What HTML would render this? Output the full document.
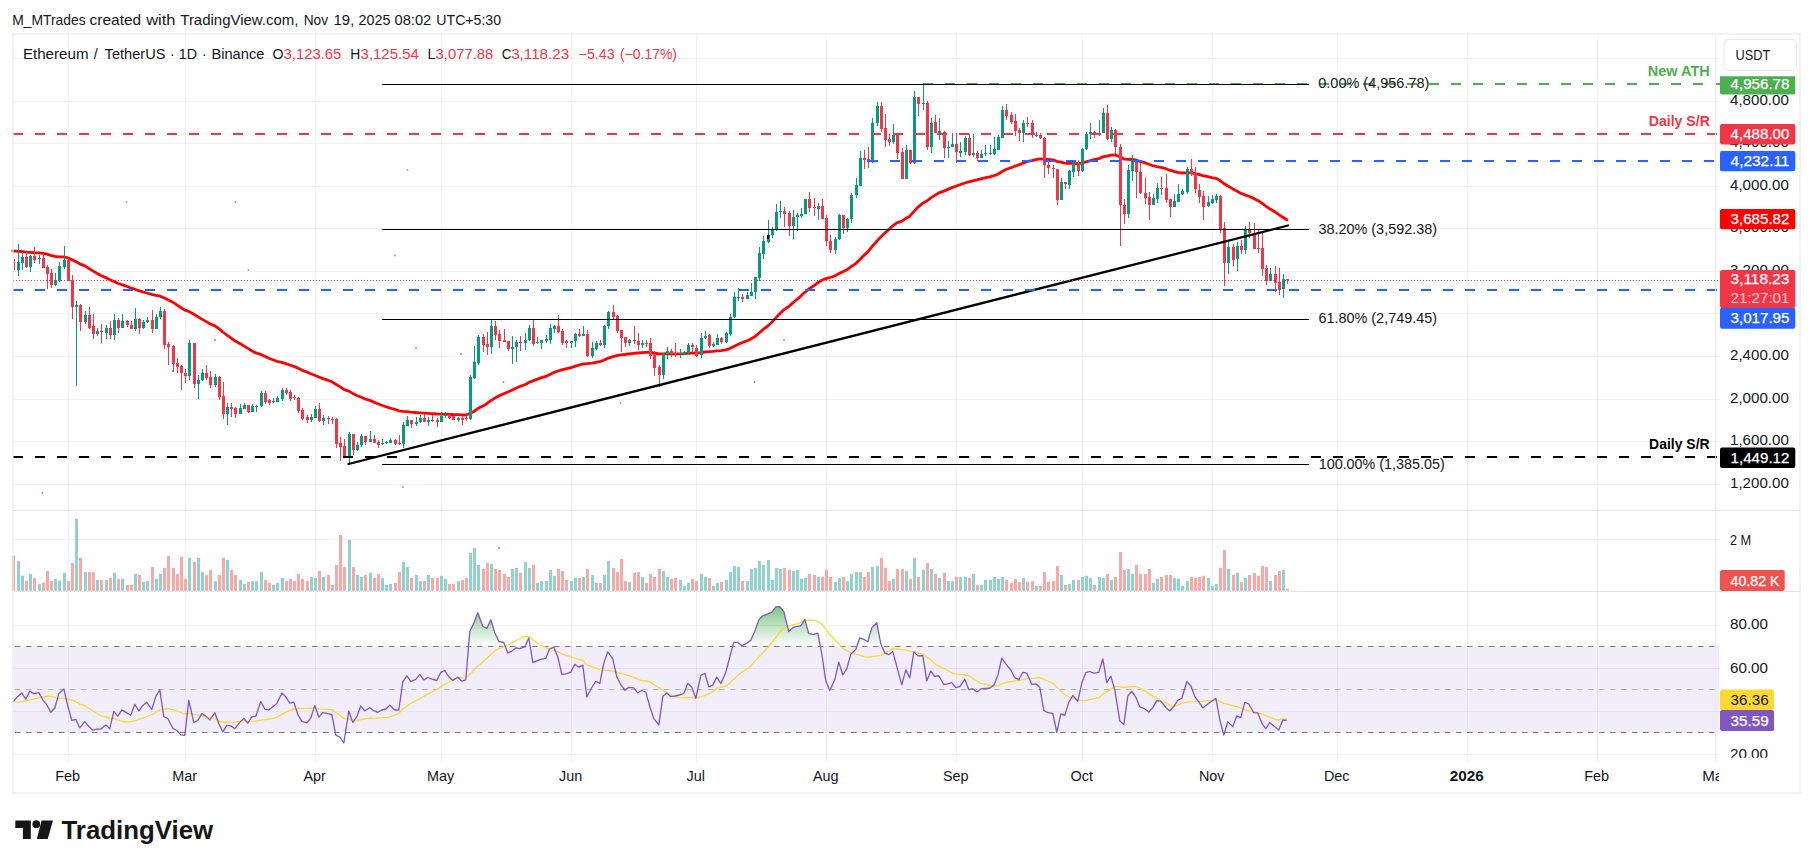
<!DOCTYPE html>
<html lang="en"><head><meta charset="utf-8"><title>ETHUSDT chart</title>
<style>html,body{margin:0;padding:0;background:#fff;}body{width:1814px;height:868px;overflow:hidden;font-family:"Liberation Sans",Arial,sans-serif;}svg{display:block}text{white-space:pre}</style>
</head><body>
<svg width="1814" height="868" viewBox="0 0 1814 868"><g shape-rendering="crispEdges">
<rect x="68" y="35" width="1" height="726.5" fill="#2a2e39" fill-opacity="0.065"/>
<rect x="185" y="35" width="1" height="726.5" fill="#2a2e39" fill-opacity="0.065"/>
<rect x="315" y="35" width="1" height="726.5" fill="#2a2e39" fill-opacity="0.065"/>
<rect x="441" y="35" width="1" height="726.5" fill="#2a2e39" fill-opacity="0.065"/>
<rect x="571" y="35" width="1" height="726.5" fill="#2a2e39" fill-opacity="0.065"/>
<rect x="696" y="35" width="1" height="726.5" fill="#2a2e39" fill-opacity="0.065"/>
<rect x="826" y="35" width="1" height="726.5" fill="#2a2e39" fill-opacity="0.065"/>
<rect x="956" y="35" width="1" height="726.5" fill="#2a2e39" fill-opacity="0.065"/>
<rect x="1082" y="35" width="1" height="726.5" fill="#2a2e39" fill-opacity="0.065"/>
<rect x="1212" y="35" width="1" height="726.5" fill="#2a2e39" fill-opacity="0.065"/>
<rect x="1337" y="35" width="1" height="726.5" fill="#2a2e39" fill-opacity="0.065"/>
<rect x="1467" y="35" width="1" height="726.5" fill="#2a2e39" fill-opacity="0.065"/>
<rect x="1597" y="35" width="1" height="726.5" fill="#2a2e39" fill-opacity="0.065"/>
<rect x="1715" y="35" width="1" height="726.5" fill="#2a2e39" fill-opacity="0.065"/>
<rect x="14" y="58" width="1705.5" height="1" fill="#2a2e39" fill-opacity="0.065"/>
<rect x="14" y="101" width="1705.5" height="1" fill="#2a2e39" fill-opacity="0.065"/>
<rect x="14" y="143" width="1705.5" height="1" fill="#2a2e39" fill-opacity="0.065"/>
<rect x="14" y="186" width="1705.5" height="1" fill="#2a2e39" fill-opacity="0.065"/>
<rect x="14" y="228" width="1705.5" height="1" fill="#2a2e39" fill-opacity="0.065"/>
<rect x="14" y="271" width="1705.5" height="1" fill="#2a2e39" fill-opacity="0.065"/>
<rect x="14" y="313" width="1705.5" height="1" fill="#2a2e39" fill-opacity="0.065"/>
<rect x="14" y="356" width="1705.5" height="1" fill="#2a2e39" fill-opacity="0.065"/>
<rect x="14" y="399" width="1705.5" height="1" fill="#2a2e39" fill-opacity="0.065"/>
<rect x="14" y="441" width="1705.5" height="1" fill="#2a2e39" fill-opacity="0.065"/>
<rect x="14" y="484" width="1705.5" height="1" fill="#2a2e39" fill-opacity="0.065"/>
<rect x="14" y="539" width="1705.5" height="1" fill="#2a2e39" fill-opacity="0.065"/>
<rect x="14" y="625" width="1705.5" height="1" fill="#2a2e39" fill-opacity="0.065"/>
<rect x="14" y="668" width="1705.5" height="1" fill="#2a2e39" fill-opacity="0.065"/>
<rect x="14" y="711" width="1705.5" height="1" fill="#2a2e39" fill-opacity="0.065"/>
<rect x="14" y="754" width="1705.5" height="1" fill="#2a2e39" fill-opacity="0.065"/>
</g>
<rect x="14" y="646.2" width="1705" height="86.1" fill="#7e57c2" fill-opacity="0.1"/>
<line x1="15" x2="1719" y1="646.5" y2="646.5" stroke="#787b86" stroke-width="1" stroke-dasharray="5.5 5.5"/>
<line x1="15" x2="1719" y1="689.5" y2="689.5" stroke="#b2b5be" stroke-width="1" stroke-dasharray="5.5 5.5"/>
<line x1="15" x2="1719" y1="732.5" y2="732.5" stroke="#787b86" stroke-width="1" stroke-dasharray="5.5 5.5"/>
<rect x="12" y="555.7" width="3" height="35.1" fill="#f7a9a7"/>
<rect x="17" y="561.0" width="3" height="29.8" fill="#92d2cc"/>
<rect x="21" y="575.8" width="3" height="15.0" fill="#92d2cc"/>
<rect x="25" y="580.7" width="3" height="10.1" fill="#f7a9a7"/>
<rect x="29" y="573.9" width="3" height="16.9" fill="#92d2cc"/>
<rect x="33" y="577.9" width="3" height="12.9" fill="#f7a9a7"/>
<rect x="38" y="583.9" width="3" height="6.9" fill="#92d2cc"/>
<rect x="42" y="582.9" width="3" height="7.9" fill="#f7a9a7"/>
<rect x="46" y="570.9" width="3" height="19.9" fill="#f7a9a7"/>
<rect x="50" y="581.1" width="3" height="9.7" fill="#f7a9a7"/>
<rect x="54" y="578.8" width="3" height="12.0" fill="#92d2cc"/>
<rect x="58" y="580.7" width="3" height="10.1" fill="#92d2cc"/>
<rect x="63" y="572.8" width="3" height="18.0" fill="#92d2cc"/>
<rect x="67" y="581.1" width="3" height="9.7" fill="#f7a9a7"/>
<rect x="71" y="562.9" width="3" height="27.9" fill="#f7a9a7"/>
<rect x="75" y="518.8" width="3" height="72.0" fill="#92d2cc"/>
<rect x="79" y="557.8" width="3" height="33.0" fill="#f7a9a7"/>
<rect x="84" y="572.1" width="3" height="18.7" fill="#92d2cc"/>
<rect x="88" y="572.1" width="3" height="18.7" fill="#f7a9a7"/>
<rect x="92" y="572.1" width="3" height="18.7" fill="#f7a9a7"/>
<rect x="96" y="579.9" width="3" height="10.9" fill="#92d2cc"/>
<rect x="100" y="579.9" width="3" height="10.9" fill="#f7a9a7"/>
<rect x="105" y="579.9" width="3" height="10.9" fill="#92d2cc"/>
<rect x="109" y="577.9" width="3" height="12.9" fill="#f7a9a7"/>
<rect x="113" y="572.8" width="3" height="18.0" fill="#92d2cc"/>
<rect x="117" y="578.8" width="3" height="12.0" fill="#f7a9a7"/>
<rect x="121" y="578.8" width="3" height="12.0" fill="#92d2cc"/>
<rect x="126" y="584.8" width="3" height="6.0" fill="#f7a9a7"/>
<rect x="130" y="584.8" width="3" height="6.0" fill="#f7a9a7"/>
<rect x="134" y="573.9" width="3" height="16.9" fill="#92d2cc"/>
<rect x="138" y="574.9" width="3" height="15.9" fill="#f7a9a7"/>
<rect x="142" y="582.0" width="3" height="8.8" fill="#92d2cc"/>
<rect x="146" y="581.1" width="3" height="9.7" fill="#92d2cc"/>
<rect x="151" y="567.0" width="3" height="23.8" fill="#f7a9a7"/>
<rect x="155" y="578.8" width="3" height="12.0" fill="#92d2cc"/>
<rect x="159" y="573.9" width="3" height="16.9" fill="#92d2cc"/>
<rect x="163" y="567.9" width="3" height="22.9" fill="#f7a9a7"/>
<rect x="167" y="555.9" width="3" height="34.9" fill="#f7a9a7"/>
<rect x="172" y="567.9" width="3" height="22.9" fill="#f7a9a7"/>
<rect x="176" y="573.9" width="3" height="16.9" fill="#f7a9a7"/>
<rect x="180" y="556.9" width="3" height="33.9" fill="#f7a9a7"/>
<rect x="184" y="578.8" width="3" height="12.0" fill="#f7a9a7"/>
<rect x="188" y="557.8" width="3" height="33.0" fill="#92d2cc"/>
<rect x="193" y="561.9" width="3" height="28.9" fill="#f7a9a7"/>
<rect x="197" y="557.8" width="3" height="33.0" fill="#92d2cc"/>
<rect x="201" y="572.1" width="3" height="18.7" fill="#92d2cc"/>
<rect x="205" y="574.9" width="3" height="15.9" fill="#f7a9a7"/>
<rect x="209" y="569.8" width="3" height="21.0" fill="#f7a9a7"/>
<rect x="214" y="581.1" width="3" height="9.7" fill="#92d2cc"/>
<rect x="218" y="574.9" width="3" height="15.9" fill="#f7a9a7"/>
<rect x="222" y="557.8" width="3" height="33.0" fill="#f7a9a7"/>
<rect x="226" y="559.9" width="3" height="30.9" fill="#92d2cc"/>
<rect x="230" y="569.8" width="3" height="21.0" fill="#f7a9a7"/>
<rect x="234" y="574.9" width="3" height="15.9" fill="#f7a9a7"/>
<rect x="239" y="579.9" width="3" height="10.9" fill="#92d2cc"/>
<rect x="243" y="583.9" width="3" height="6.9" fill="#92d2cc"/>
<rect x="247" y="582.0" width="3" height="8.8" fill="#f7a9a7"/>
<rect x="251" y="581.1" width="3" height="9.7" fill="#92d2cc"/>
<rect x="255" y="581.1" width="3" height="9.7" fill="#92d2cc"/>
<rect x="260" y="572.1" width="3" height="18.7" fill="#92d2cc"/>
<rect x="264" y="579.9" width="3" height="10.9" fill="#f7a9a7"/>
<rect x="268" y="582.9" width="3" height="7.9" fill="#f7a9a7"/>
<rect x="272" y="584.8" width="3" height="6.0" fill="#92d2cc"/>
<rect x="276" y="582.9" width="3" height="7.9" fill="#92d2cc"/>
<rect x="281" y="577.9" width="3" height="12.9" fill="#92d2cc"/>
<rect x="285" y="581.1" width="3" height="9.7" fill="#f7a9a7"/>
<rect x="289" y="578.8" width="3" height="12.0" fill="#f7a9a7"/>
<rect x="293" y="581.1" width="3" height="9.7" fill="#f7a9a7"/>
<rect x="297" y="573.9" width="3" height="16.9" fill="#f7a9a7"/>
<rect x="301" y="578.8" width="3" height="12.0" fill="#f7a9a7"/>
<rect x="306" y="581.1" width="3" height="9.7" fill="#f7a9a7"/>
<rect x="310" y="576.9" width="3" height="13.9" fill="#92d2cc"/>
<rect x="314" y="577.9" width="3" height="12.9" fill="#92d2cc"/>
<rect x="318" y="570.9" width="3" height="19.9" fill="#f7a9a7"/>
<rect x="322" y="576.9" width="3" height="13.9" fill="#92d2cc"/>
<rect x="327" y="574.9" width="3" height="15.9" fill="#f7a9a7"/>
<rect x="331" y="584.8" width="3" height="6.0" fill="#f7a9a7"/>
<rect x="335" y="564.9" width="3" height="25.9" fill="#f7a9a7"/>
<rect x="339" y="534.9" width="3" height="55.9" fill="#f7a9a7"/>
<rect x="343" y="567.0" width="3" height="23.8" fill="#f7a9a7"/>
<rect x="348" y="539.8" width="3" height="51.0" fill="#92d2cc"/>
<rect x="352" y="567.0" width="3" height="23.8" fill="#f7a9a7"/>
<rect x="356" y="574.9" width="3" height="15.9" fill="#92d2cc"/>
<rect x="360" y="576.9" width="3" height="13.9" fill="#92d2cc"/>
<rect x="364" y="574.9" width="3" height="15.9" fill="#f7a9a7"/>
<rect x="369" y="572.8" width="3" height="18.0" fill="#92d2cc"/>
<rect x="373" y="577.9" width="3" height="12.9" fill="#f7a9a7"/>
<rect x="377" y="573.9" width="3" height="16.9" fill="#f7a9a7"/>
<rect x="381" y="577.9" width="3" height="12.9" fill="#92d2cc"/>
<rect x="385" y="584.8" width="3" height="6.0" fill="#92d2cc"/>
<rect x="389" y="583.9" width="3" height="6.9" fill="#92d2cc"/>
<rect x="394" y="582.9" width="3" height="7.9" fill="#f7a9a7"/>
<rect x="398" y="572.1" width="3" height="18.7" fill="#f7a9a7"/>
<rect x="402" y="561.9" width="3" height="28.9" fill="#92d2cc"/>
<rect x="406" y="567.0" width="3" height="23.8" fill="#92d2cc"/>
<rect x="410" y="577.9" width="3" height="12.9" fill="#f7a9a7"/>
<rect x="415" y="574.9" width="3" height="15.9" fill="#92d2cc"/>
<rect x="419" y="581.1" width="3" height="9.7" fill="#92d2cc"/>
<rect x="423" y="581.1" width="3" height="9.7" fill="#f7a9a7"/>
<rect x="427" y="574.9" width="3" height="15.9" fill="#92d2cc"/>
<rect x="431" y="577.9" width="3" height="12.9" fill="#f7a9a7"/>
<rect x="436" y="577.9" width="3" height="12.9" fill="#f7a9a7"/>
<rect x="440" y="575.8" width="3" height="15.0" fill="#92d2cc"/>
<rect x="444" y="578.8" width="3" height="12.0" fill="#92d2cc"/>
<rect x="448" y="583.9" width="3" height="6.9" fill="#f7a9a7"/>
<rect x="452" y="583.9" width="3" height="6.9" fill="#f7a9a7"/>
<rect x="457" y="581.1" width="3" height="9.7" fill="#92d2cc"/>
<rect x="461" y="579.9" width="3" height="10.9" fill="#f7a9a7"/>
<rect x="465" y="577.9" width="3" height="12.9" fill="#f7a9a7"/>
<rect x="469" y="552.9" width="3" height="37.9" fill="#92d2cc"/>
<rect x="473" y="547.9" width="3" height="42.9" fill="#92d2cc"/>
<rect x="477" y="564.9" width="3" height="25.9" fill="#92d2cc"/>
<rect x="482" y="568.9" width="3" height="21.9" fill="#f7a9a7"/>
<rect x="486" y="562.9" width="3" height="27.9" fill="#f7a9a7"/>
<rect x="490" y="563.8" width="3" height="27.0" fill="#92d2cc"/>
<rect x="494" y="568.9" width="3" height="21.9" fill="#f7a9a7"/>
<rect x="498" y="569.8" width="3" height="21.0" fill="#f7a9a7"/>
<rect x="503" y="573.9" width="3" height="16.9" fill="#f7a9a7"/>
<rect x="507" y="576.9" width="3" height="13.9" fill="#f7a9a7"/>
<rect x="511" y="568.9" width="3" height="21.9" fill="#92d2cc"/>
<rect x="515" y="567.9" width="3" height="22.9" fill="#92d2cc"/>
<rect x="519" y="572.8" width="3" height="18.0" fill="#f7a9a7"/>
<rect x="524" y="561.9" width="3" height="28.9" fill="#92d2cc"/>
<rect x="528" y="567.9" width="3" height="22.9" fill="#92d2cc"/>
<rect x="532" y="564.9" width="3" height="25.9" fill="#f7a9a7"/>
<rect x="536" y="582.9" width="3" height="7.9" fill="#92d2cc"/>
<rect x="540" y="581.1" width="3" height="9.7" fill="#92d2cc"/>
<rect x="545" y="581.1" width="3" height="9.7" fill="#92d2cc"/>
<rect x="549" y="569.8" width="3" height="21.0" fill="#92d2cc"/>
<rect x="553" y="575.8" width="3" height="15.0" fill="#92d2cc"/>
<rect x="557" y="568.9" width="3" height="21.9" fill="#f7a9a7"/>
<rect x="561" y="570.9" width="3" height="19.9" fill="#f7a9a7"/>
<rect x="565" y="579.9" width="3" height="10.9" fill="#f7a9a7"/>
<rect x="570" y="581.1" width="3" height="9.7" fill="#92d2cc"/>
<rect x="574" y="577.9" width="3" height="12.9" fill="#92d2cc"/>
<rect x="578" y="577.9" width="3" height="12.9" fill="#f7a9a7"/>
<rect x="582" y="576.9" width="3" height="13.9" fill="#92d2cc"/>
<rect x="586" y="568.9" width="3" height="21.9" fill="#f7a9a7"/>
<rect x="591" y="574.9" width="3" height="15.9" fill="#92d2cc"/>
<rect x="595" y="582.9" width="3" height="7.9" fill="#92d2cc"/>
<rect x="599" y="582.9" width="3" height="7.9" fill="#f7a9a7"/>
<rect x="603" y="574.9" width="3" height="15.9" fill="#92d2cc"/>
<rect x="607" y="561.0" width="3" height="29.8" fill="#92d2cc"/>
<rect x="612" y="567.9" width="3" height="22.9" fill="#f7a9a7"/>
<rect x="616" y="572.1" width="3" height="18.7" fill="#f7a9a7"/>
<rect x="620" y="558.9" width="3" height="31.9" fill="#f7a9a7"/>
<rect x="624" y="581.1" width="3" height="9.7" fill="#f7a9a7"/>
<rect x="628" y="582.0" width="3" height="8.8" fill="#92d2cc"/>
<rect x="633" y="572.8" width="3" height="18.0" fill="#f7a9a7"/>
<rect x="637" y="572.1" width="3" height="18.7" fill="#f7a9a7"/>
<rect x="641" y="576.9" width="3" height="13.9" fill="#92d2cc"/>
<rect x="645" y="582.9" width="3" height="7.9" fill="#f7a9a7"/>
<rect x="649" y="573.9" width="3" height="16.9" fill="#f7a9a7"/>
<rect x="653" y="576.9" width="3" height="13.9" fill="#f7a9a7"/>
<rect x="658" y="568.9" width="3" height="21.9" fill="#f7a9a7"/>
<rect x="662" y="570.9" width="3" height="19.9" fill="#92d2cc"/>
<rect x="666" y="576.9" width="3" height="13.9" fill="#92d2cc"/>
<rect x="670" y="578.8" width="3" height="12.0" fill="#f7a9a7"/>
<rect x="674" y="577.9" width="3" height="12.9" fill="#f7a9a7"/>
<rect x="679" y="579.9" width="3" height="10.9" fill="#92d2cc"/>
<rect x="683" y="585.9" width="3" height="4.9" fill="#92d2cc"/>
<rect x="687" y="582.9" width="3" height="7.9" fill="#92d2cc"/>
<rect x="691" y="578.8" width="3" height="12.0" fill="#f7a9a7"/>
<rect x="695" y="581.1" width="3" height="9.7" fill="#f7a9a7"/>
<rect x="700" y="573.9" width="3" height="16.9" fill="#92d2cc"/>
<rect x="704" y="576.9" width="3" height="13.9" fill="#92d2cc"/>
<rect x="708" y="577.9" width="3" height="12.9" fill="#f7a9a7"/>
<rect x="712" y="585.9" width="3" height="4.9" fill="#92d2cc"/>
<rect x="716" y="582.9" width="3" height="7.9" fill="#92d2cc"/>
<rect x="720" y="582.0" width="3" height="8.8" fill="#f7a9a7"/>
<rect x="725" y="579.9" width="3" height="10.9" fill="#92d2cc"/>
<rect x="729" y="572.1" width="3" height="18.7" fill="#92d2cc"/>
<rect x="733" y="566.1" width="3" height="24.7" fill="#92d2cc"/>
<rect x="737" y="567.0" width="3" height="23.8" fill="#92d2cc"/>
<rect x="741" y="581.1" width="3" height="9.7" fill="#f7a9a7"/>
<rect x="746" y="581.1" width="3" height="9.7" fill="#92d2cc"/>
<rect x="750" y="568.9" width="3" height="21.9" fill="#92d2cc"/>
<rect x="754" y="567.9" width="3" height="22.9" fill="#92d2cc"/>
<rect x="758" y="561.0" width="3" height="29.8" fill="#92d2cc"/>
<rect x="762" y="564.9" width="3" height="25.9" fill="#92d2cc"/>
<rect x="767" y="559.9" width="3" height="30.9" fill="#92d2cc"/>
<rect x="771" y="579.9" width="3" height="10.9" fill="#92d2cc"/>
<rect x="775" y="567.9" width="3" height="22.9" fill="#92d2cc"/>
<rect x="779" y="568.9" width="3" height="21.9" fill="#92d2cc"/>
<rect x="783" y="567.9" width="3" height="22.9" fill="#f7a9a7"/>
<rect x="788" y="569.8" width="3" height="21.0" fill="#f7a9a7"/>
<rect x="792" y="570.9" width="3" height="19.9" fill="#92d2cc"/>
<rect x="796" y="569.8" width="3" height="21.0" fill="#92d2cc"/>
<rect x="800" y="578.8" width="3" height="12.0" fill="#92d2cc"/>
<rect x="804" y="577.9" width="3" height="12.9" fill="#92d2cc"/>
<rect x="808" y="573.9" width="3" height="16.9" fill="#f7a9a7"/>
<rect x="813" y="574.9" width="3" height="15.9" fill="#f7a9a7"/>
<rect x="817" y="576.9" width="3" height="13.9" fill="#92d2cc"/>
<rect x="821" y="576.9" width="3" height="13.9" fill="#f7a9a7"/>
<rect x="825" y="569.8" width="3" height="21.0" fill="#f7a9a7"/>
<rect x="829" y="576.9" width="3" height="13.9" fill="#f7a9a7"/>
<rect x="834" y="582.0" width="3" height="8.8" fill="#92d2cc"/>
<rect x="838" y="577.9" width="3" height="12.9" fill="#92d2cc"/>
<rect x="842" y="576.9" width="3" height="13.9" fill="#f7a9a7"/>
<rect x="846" y="581.1" width="3" height="9.7" fill="#92d2cc"/>
<rect x="850" y="573.9" width="3" height="16.9" fill="#92d2cc"/>
<rect x="855" y="572.1" width="3" height="18.7" fill="#92d2cc"/>
<rect x="859" y="572.1" width="3" height="18.7" fill="#92d2cc"/>
<rect x="863" y="576.9" width="3" height="13.9" fill="#f7a9a7"/>
<rect x="867" y="572.1" width="3" height="18.7" fill="#f7a9a7"/>
<rect x="871" y="567.0" width="3" height="23.8" fill="#92d2cc"/>
<rect x="876" y="566.1" width="3" height="24.7" fill="#92d2cc"/>
<rect x="880" y="557.8" width="3" height="33.0" fill="#f7a9a7"/>
<rect x="884" y="567.9" width="3" height="22.9" fill="#f7a9a7"/>
<rect x="888" y="581.1" width="3" height="9.7" fill="#f7a9a7"/>
<rect x="892" y="578.8" width="3" height="12.0" fill="#92d2cc"/>
<rect x="896" y="568.9" width="3" height="21.9" fill="#f7a9a7"/>
<rect x="901" y="568.9" width="3" height="21.9" fill="#f7a9a7"/>
<rect x="905" y="570.9" width="3" height="19.9" fill="#92d2cc"/>
<rect x="909" y="578.8" width="3" height="12.0" fill="#f7a9a7"/>
<rect x="913" y="557.8" width="3" height="33.0" fill="#92d2cc"/>
<rect x="917" y="576.9" width="3" height="13.9" fill="#f7a9a7"/>
<rect x="922" y="569.8" width="3" height="21.0" fill="#92d2cc"/>
<rect x="926" y="562.9" width="3" height="27.9" fill="#f7a9a7"/>
<rect x="930" y="568.9" width="3" height="21.9" fill="#92d2cc"/>
<rect x="934" y="573.9" width="3" height="16.9" fill="#f7a9a7"/>
<rect x="938" y="577.9" width="3" height="12.9" fill="#92d2cc"/>
<rect x="943" y="572.8" width="3" height="18.0" fill="#f7a9a7"/>
<rect x="947" y="581.1" width="3" height="9.7" fill="#92d2cc"/>
<rect x="951" y="581.1" width="3" height="9.7" fill="#92d2cc"/>
<rect x="955" y="576.9" width="3" height="13.9" fill="#f7a9a7"/>
<rect x="959" y="576.9" width="3" height="13.9" fill="#92d2cc"/>
<rect x="964" y="576.9" width="3" height="13.9" fill="#92d2cc"/>
<rect x="968" y="577.9" width="3" height="12.9" fill="#f7a9a7"/>
<rect x="972" y="573.9" width="3" height="16.9" fill="#92d2cc"/>
<rect x="976" y="584.8" width="3" height="6.0" fill="#f7a9a7"/>
<rect x="980" y="584.8" width="3" height="6.0" fill="#92d2cc"/>
<rect x="984" y="579.9" width="3" height="10.9" fill="#92d2cc"/>
<rect x="989" y="579.9" width="3" height="10.9" fill="#92d2cc"/>
<rect x="993" y="576.9" width="3" height="13.9" fill="#92d2cc"/>
<rect x="997" y="578.8" width="3" height="12.0" fill="#92d2cc"/>
<rect x="1001" y="576.9" width="3" height="13.9" fill="#92d2cc"/>
<rect x="1005" y="579.9" width="3" height="10.9" fill="#f7a9a7"/>
<rect x="1010" y="582.9" width="3" height="7.9" fill="#f7a9a7"/>
<rect x="1014" y="578.8" width="3" height="12.0" fill="#f7a9a7"/>
<rect x="1018" y="582.0" width="3" height="8.8" fill="#f7a9a7"/>
<rect x="1022" y="577.9" width="3" height="12.9" fill="#92d2cc"/>
<rect x="1026" y="582.0" width="3" height="8.8" fill="#f7a9a7"/>
<rect x="1031" y="581.1" width="3" height="9.7" fill="#f7a9a7"/>
<rect x="1035" y="585.9" width="3" height="4.9" fill="#92d2cc"/>
<rect x="1039" y="585.9" width="3" height="4.9" fill="#f7a9a7"/>
<rect x="1043" y="572.1" width="3" height="18.7" fill="#f7a9a7"/>
<rect x="1047" y="582.0" width="3" height="8.8" fill="#f7a9a7"/>
<rect x="1052" y="581.1" width="3" height="9.7" fill="#f7a9a7"/>
<rect x="1056" y="566.1" width="3" height="24.7" fill="#f7a9a7"/>
<rect x="1060" y="574.9" width="3" height="15.9" fill="#92d2cc"/>
<rect x="1064" y="584.8" width="3" height="6.0" fill="#f7a9a7"/>
<rect x="1068" y="583.9" width="3" height="6.9" fill="#92d2cc"/>
<rect x="1072" y="579.9" width="3" height="10.9" fill="#92d2cc"/>
<rect x="1077" y="579.9" width="3" height="10.9" fill="#f7a9a7"/>
<rect x="1081" y="576.9" width="3" height="13.9" fill="#92d2cc"/>
<rect x="1085" y="575.8" width="3" height="15.0" fill="#92d2cc"/>
<rect x="1089" y="577.9" width="3" height="12.9" fill="#92d2cc"/>
<rect x="1093" y="584.8" width="3" height="6.0" fill="#f7a9a7"/>
<rect x="1098" y="576.9" width="3" height="13.9" fill="#92d2cc"/>
<rect x="1102" y="577.9" width="3" height="12.9" fill="#92d2cc"/>
<rect x="1106" y="573.9" width="3" height="16.9" fill="#f7a9a7"/>
<rect x="1110" y="579.9" width="3" height="10.9" fill="#92d2cc"/>
<rect x="1114" y="576.9" width="3" height="13.9" fill="#f7a9a7"/>
<rect x="1119" y="552.0" width="3" height="38.8" fill="#f7a9a7"/>
<rect x="1123" y="569.8" width="3" height="21.0" fill="#f7a9a7"/>
<rect x="1127" y="568.9" width="3" height="21.9" fill="#92d2cc"/>
<rect x="1131" y="573.9" width="3" height="16.9" fill="#92d2cc"/>
<rect x="1135" y="564.9" width="3" height="25.9" fill="#f7a9a7"/>
<rect x="1139" y="573.9" width="3" height="16.9" fill="#f7a9a7"/>
<rect x="1144" y="573.9" width="3" height="16.9" fill="#f7a9a7"/>
<rect x="1148" y="568.9" width="3" height="21.9" fill="#f7a9a7"/>
<rect x="1152" y="582.9" width="3" height="7.9" fill="#92d2cc"/>
<rect x="1156" y="578.8" width="3" height="12.0" fill="#92d2cc"/>
<rect x="1160" y="576.9" width="3" height="13.9" fill="#f7a9a7"/>
<rect x="1165" y="574.9" width="3" height="15.9" fill="#f7a9a7"/>
<rect x="1169" y="574.9" width="3" height="15.9" fill="#f7a9a7"/>
<rect x="1173" y="577.9" width="3" height="12.9" fill="#92d2cc"/>
<rect x="1177" y="578.8" width="3" height="12.0" fill="#92d2cc"/>
<rect x="1181" y="585.9" width="3" height="4.9" fill="#92d2cc"/>
<rect x="1186" y="581.1" width="3" height="9.7" fill="#92d2cc"/>
<rect x="1190" y="576.9" width="3" height="13.9" fill="#f7a9a7"/>
<rect x="1194" y="577.9" width="3" height="12.9" fill="#f7a9a7"/>
<rect x="1198" y="576.9" width="3" height="13.9" fill="#f7a9a7"/>
<rect x="1202" y="575.8" width="3" height="15.0" fill="#f7a9a7"/>
<rect x="1207" y="577.9" width="3" height="12.9" fill="#92d2cc"/>
<rect x="1211" y="585.9" width="3" height="4.9" fill="#92d2cc"/>
<rect x="1215" y="583.9" width="3" height="6.9" fill="#92d2cc"/>
<rect x="1219" y="567.9" width="3" height="22.9" fill="#f7a9a7"/>
<rect x="1223" y="549.9" width="3" height="40.9" fill="#f7a9a7"/>
<rect x="1227" y="568.9" width="3" height="21.9" fill="#92d2cc"/>
<rect x="1232" y="574.9" width="3" height="15.9" fill="#f7a9a7"/>
<rect x="1236" y="572.8" width="3" height="18.0" fill="#92d2cc"/>
<rect x="1240" y="582.0" width="3" height="8.8" fill="#f7a9a7"/>
<rect x="1244" y="577.9" width="3" height="12.9" fill="#92d2cc"/>
<rect x="1248" y="574.9" width="3" height="15.9" fill="#f7a9a7"/>
<rect x="1253" y="572.8" width="3" height="18.0" fill="#f7a9a7"/>
<rect x="1257" y="575.8" width="3" height="15.0" fill="#f7a9a7"/>
<rect x="1261" y="566.1" width="3" height="24.7" fill="#f7a9a7"/>
<rect x="1265" y="567.0" width="3" height="23.8" fill="#f7a9a7"/>
<rect x="1269" y="581.1" width="3" height="9.7" fill="#92d2cc"/>
<rect x="1274" y="574.9" width="3" height="15.9" fill="#f7a9a7"/>
<rect x="1278" y="570.9" width="3" height="19.9" fill="#f7a9a7"/>
<rect x="1282" y="569.8" width="3" height="21.0" fill="#92d2cc"/>
<rect x="1286" y="588.9" width="3" height="1.9" fill="#f7a9a7"/>
<polyline fill="none" stroke="#ff0000" stroke-width="2.8" stroke-linejoin="round" stroke-linecap="round" points="12.8,250.9 17.8,251.3 21.8,251.5 25.8,252.1 29.8,252.3 33.8,252.6 38.8,252.8 42.8,253.4 46.8,254.2 50.8,255.4 54.8,256.4 58.8,256.8 63.8,256.9 67.8,257.8 71.8,259.7 75.8,261.5 79.8,263.9 84.8,265.9 88.8,268.3 92.8,270.9 96.8,273.2 100.8,275.5 105.8,277.6 109.8,279.8 113.8,281.4 117.8,283.2 121.8,284.7 126.8,286.3 130.8,288.0 134.8,289.2 138.8,290.7 142.8,291.9 146.8,293.0 151.8,294.4 155.8,295.3 159.8,295.9 163.8,297.8 167.8,299.7 172.8,302.2 176.8,304.8 180.8,307.5 184.8,310.1 188.8,311.4 193.8,314.3 197.8,316.8 201.8,319.1 205.8,321.4 209.8,323.8 214.8,325.9 218.8,328.7 222.8,332.0 226.8,335.0 230.8,337.9 234.8,340.8 239.8,343.5 243.8,345.9 247.8,348.4 251.8,350.7 255.8,352.9 260.8,354.4 264.8,356.3 268.8,358.2 272.8,359.8 276.8,361.3 281.8,362.4 285.8,363.6 289.8,365.0 293.8,366.3 297.8,368.1 301.8,370.1 306.8,372.0 310.8,373.8 314.8,375.2 318.8,377.0 322.8,378.6 327.8,380.2 331.8,381.8 335.8,384.2 339.8,386.6 343.8,389.4 348.8,391.1 352.8,393.4 356.8,395.5 360.8,397.0 364.8,398.8 369.8,400.4 373.8,402.1 377.8,403.7 381.8,405.3 385.8,406.7 389.8,408.0 394.8,409.4 398.8,410.8 402.8,411.3 406.8,411.7 410.8,412.2 415.8,412.5 419.8,412.8 423.8,413.1 427.8,413.4 431.8,413.7 436.8,414.0 440.8,414.1 444.8,414.1 448.8,414.3 452.8,414.5 457.8,414.6 461.8,414.8 465.8,415.0 469.8,413.5 473.8,411.5 477.8,408.6 482.8,406.1 486.8,403.7 490.8,400.7 494.8,398.1 498.8,395.9 503.8,393.7 507.8,392.0 511.8,390.2 515.8,388.3 519.8,386.5 524.8,384.7 528.8,382.5 532.8,380.9 536.8,379.4 540.8,377.9 545.8,376.4 549.8,374.5 553.8,372.6 557.8,371.0 561.8,369.9 565.8,368.8 570.8,367.7 574.8,366.4 578.8,365.2 582.8,364.0 586.8,363.7 591.8,363.1 595.8,362.3 599.8,361.6 603.8,360.2 607.8,358.3 612.8,356.7 616.8,355.7 620.8,354.9 624.8,354.5 628.8,353.9 633.8,353.4 637.8,353.0 641.8,352.6 645.8,352.3 649.8,352.4 653.8,353.0 658.8,353.9 662.8,353.9 666.8,353.7 670.8,353.8 674.8,353.8 679.8,353.8 683.8,353.7 687.8,353.3 691.8,353.1 695.8,353.2 700.8,352.6 704.8,352.0 708.8,351.7 712.8,351.4 716.8,350.9 720.8,350.6 725.8,349.9 729.8,348.6 733.8,346.5 737.8,344.6 741.8,342.8 746.8,340.9 750.8,339.0 754.8,336.6 758.8,333.3 762.8,329.7 767.8,326.0 771.8,322.2 775.8,317.9 779.8,313.7 783.8,309.8 788.8,306.5 792.8,302.9 796.8,299.5 800.8,296.1 804.8,292.3 808.8,289.0 813.8,285.8 817.8,282.7 821.8,280.2 825.8,278.6 829.8,277.5 834.8,276.0 838.8,273.6 842.8,271.8 846.8,269.8 850.8,266.8 855.8,263.6 859.8,259.5 863.8,255.6 867.8,251.9 871.8,246.9 876.8,241.3 880.8,236.9 884.8,233.1 888.8,229.5 892.8,225.8 896.8,222.9 901.8,221.2 905.8,218.4 909.8,216.2 913.8,211.6 917.8,207.3 922.8,203.2 926.8,201.0 930.8,197.9 934.8,195.4 938.8,192.9 943.8,191.1 947.8,189.4 951.8,187.6 955.8,186.2 959.8,184.8 964.8,183.0 968.8,181.9 972.8,180.8 976.8,179.9 980.8,178.8 984.8,177.8 989.8,176.8 993.8,175.7 997.8,174.2 1001.8,171.7 1005.8,169.5 1010.8,167.7 1014.8,166.2 1018.8,164.9 1022.8,163.3 1026.8,161.7 1031.8,160.7 1035.8,159.7 1039.8,158.8 1043.8,159.1 1047.8,159.4 1052.8,159.8 1056.8,161.4 1060.8,162.2 1064.8,163.1 1068.8,163.4 1072.8,163.4 1077.8,163.7 1081.8,163.1 1085.8,161.9 1089.8,160.8 1093.8,159.7 1098.8,158.7 1102.8,156.9 1106.8,156.2 1110.8,155.1 1114.8,154.8 1119.8,156.8 1123.8,159.0 1127.8,159.4 1131.8,159.5 1135.8,160.0 1139.8,161.3 1144.8,162.7 1148.8,164.3 1152.8,165.7 1156.8,166.6 1160.8,167.4 1165.8,168.7 1169.8,170.2 1173.8,171.4 1177.8,172.3 1181.8,173.0 1186.8,172.8 1190.8,172.9 1194.8,173.5 1198.8,174.4 1202.8,175.7 1207.8,176.7 1211.8,177.6 1215.8,178.3 1219.8,180.3 1223.8,183.5 1227.8,186.0 1232.8,188.9 1236.8,191.1 1240.8,193.4 1244.8,194.9 1248.8,196.3 1253.8,198.4 1257.8,200.4 1261.8,203.1 1265.8,206.1 1269.8,208.8 1274.8,211.7 1278.8,214.7 1282.8,217.3 1286.8,219.7"/>
<clipPath id="pclip"><rect x="14" y="35" width="1702" height="475"/></clipPath><g shape-rendering="crispEdges" clip-path="url(#pclip)">
<rect x="13" y="244.5" width="1" height="32.8" fill="#f23645"/>
<rect x="12" y="259.2" width="3" height="11.2" fill="#f23645"/>
<rect x="18" y="243.6" width="1" height="32.8" fill="#089981"/>
<rect x="17" y="261.8" width="3" height="8.6" fill="#089981"/>
<rect x="22" y="252.3" width="1" height="17.3" fill="#089981"/>
<rect x="21" y="256.6" width="3" height="6.0" fill="#089981"/>
<rect x="26" y="252.3" width="1" height="15.6" fill="#f23645"/>
<rect x="25" y="256.6" width="3" height="10.4" fill="#f23645"/>
<rect x="30" y="254.9" width="1" height="16.8" fill="#089981"/>
<rect x="29" y="255.7" width="3" height="11.2" fill="#089981"/>
<rect x="34" y="247.1" width="1" height="15.6" fill="#f23645"/>
<rect x="33" y="255.7" width="3" height="4.3" fill="#f23645"/>
<rect x="39" y="254.9" width="1" height="8.6" fill="#089981"/>
<rect x="38" y="258.0" width="3" height="1.2" fill="#089981"/>
<rect x="43" y="254.0" width="1" height="13.8" fill="#f23645"/>
<rect x="42" y="257.5" width="3" height="10.4" fill="#f23645"/>
<rect x="47" y="265.2" width="1" height="24.2" fill="#f23645"/>
<rect x="46" y="267.0" width="3" height="6.9" fill="#f23645"/>
<rect x="51" y="268.7" width="1" height="19.0" fill="#f23645"/>
<rect x="50" y="273.0" width="3" height="12.1" fill="#f23645"/>
<rect x="55" y="273.4" width="1" height="12.6" fill="#089981"/>
<rect x="54" y="280.3" width="3" height="4.8" fill="#089981"/>
<rect x="59" y="262.3" width="1" height="19.7" fill="#089981"/>
<rect x="58" y="266.1" width="3" height="14.7" fill="#089981"/>
<rect x="64" y="246.2" width="1" height="22.5" fill="#089981"/>
<rect x="63" y="260.1" width="3" height="6.9" fill="#089981"/>
<rect x="68" y="257.5" width="1" height="23.3" fill="#f23645"/>
<rect x="67" y="260.1" width="3" height="20.7" fill="#f23645"/>
<rect x="72" y="275.1" width="1" height="43.7" fill="#f23645"/>
<rect x="71" y="280.3" width="3" height="26.4" fill="#f23645"/>
<rect x="76" y="301.0" width="1" height="84.9" fill="#089981"/>
<rect x="75" y="305.0" width="3" height="1.7" fill="#089981"/>
<rect x="80" y="303.8" width="1" height="27.1" fill="#f23645"/>
<rect x="79" y="304.5" width="3" height="17.3" fill="#f23645"/>
<rect x="85" y="310.7" width="1" height="13.3" fill="#089981"/>
<rect x="84" y="314.8" width="3" height="6.9" fill="#089981"/>
<rect x="89" y="307.2" width="1" height="21.9" fill="#f23645"/>
<rect x="88" y="314.8" width="3" height="13.5" fill="#f23645"/>
<rect x="93" y="314.1" width="1" height="24.9" fill="#f23645"/>
<rect x="92" y="326.2" width="3" height="7.3" fill="#f23645"/>
<rect x="97" y="328.3" width="1" height="7.8" fill="#089981"/>
<rect x="96" y="330.9" width="3" height="2.6" fill="#089981"/>
<rect x="101" y="324.0" width="1" height="19.0" fill="#f23645"/>
<rect x="100" y="330.9" width="3" height="1.0" fill="#f23645"/>
<rect x="106" y="324.9" width="1" height="13.8" fill="#089981"/>
<rect x="105" y="328.0" width="3" height="5.2" fill="#089981"/>
<rect x="110" y="321.1" width="1" height="18.0" fill="#f23645"/>
<rect x="109" y="328.0" width="3" height="6.9" fill="#f23645"/>
<rect x="114" y="314.1" width="1" height="25.9" fill="#089981"/>
<rect x="113" y="319.7" width="3" height="15.2" fill="#089981"/>
<rect x="118" y="317.9" width="1" height="14.7" fill="#f23645"/>
<rect x="117" y="320.0" width="3" height="8.3" fill="#f23645"/>
<rect x="122" y="314.1" width="1" height="14.2" fill="#089981"/>
<rect x="121" y="321.1" width="3" height="7.3" fill="#089981"/>
<rect x="127" y="320.0" width="1" height="7.4" fill="#f23645"/>
<rect x="126" y="321.1" width="3" height="4.1" fill="#f23645"/>
<rect x="131" y="321.1" width="1" height="8.1" fill="#f23645"/>
<rect x="130" y="324.9" width="3" height="3.8" fill="#f23645"/>
<rect x="135" y="308.3" width="1" height="22.6" fill="#089981"/>
<rect x="134" y="318.8" width="3" height="9.9" fill="#089981"/>
<rect x="139" y="317.9" width="1" height="15.9" fill="#f23645"/>
<rect x="138" y="318.8" width="3" height="9.5" fill="#f23645"/>
<rect x="143" y="320.0" width="1" height="9.2" fill="#089981"/>
<rect x="142" y="321.8" width="3" height="6.6" fill="#089981"/>
<rect x="147" y="317.1" width="1" height="5.7" fill="#089981"/>
<rect x="146" y="320.0" width="3" height="2.2" fill="#089981"/>
<rect x="152" y="309.5" width="1" height="23.0" fill="#f23645"/>
<rect x="151" y="319.9" width="3" height="8.6" fill="#f23645"/>
<rect x="156" y="314.2" width="1" height="14.3" fill="#089981"/>
<rect x="155" y="316.9" width="3" height="11.6" fill="#089981"/>
<rect x="160" y="307.3" width="1" height="11.4" fill="#089981"/>
<rect x="159" y="310.7" width="3" height="6.6" fill="#089981"/>
<rect x="164" y="309.0" width="1" height="39.7" fill="#f23645"/>
<rect x="163" y="310.7" width="3" height="33.9" fill="#f23645"/>
<rect x="168" y="341.8" width="1" height="23.0" fill="#f23645"/>
<rect x="167" y="344.1" width="3" height="2.6" fill="#f23645"/>
<rect x="173" y="345.3" width="1" height="26.4" fill="#f23645"/>
<rect x="172" y="345.8" width="3" height="17.8" fill="#f23645"/>
<rect x="177" y="358.4" width="1" height="15.0" fill="#f23645"/>
<rect x="176" y="363.1" width="3" height="3.5" fill="#f23645"/>
<rect x="181" y="364.8" width="1" height="25.1" fill="#f23645"/>
<rect x="180" y="366.0" width="3" height="7.4" fill="#f23645"/>
<rect x="185" y="369.1" width="1" height="13.5" fill="#f23645"/>
<rect x="184" y="372.9" width="3" height="2.8" fill="#f23645"/>
<rect x="189" y="340.1" width="1" height="39.7" fill="#089981"/>
<rect x="188" y="343.2" width="3" height="32.5" fill="#089981"/>
<rect x="194" y="343.2" width="1" height="44.6" fill="#f23645"/>
<rect x="193" y="343.2" width="3" height="40.6" fill="#f23645"/>
<rect x="198" y="375.2" width="1" height="23.7" fill="#089981"/>
<rect x="197" y="379.8" width="3" height="4.0" fill="#089981"/>
<rect x="202" y="369.1" width="1" height="12.1" fill="#089981"/>
<rect x="201" y="373.4" width="3" height="6.9" fill="#089981"/>
<rect x="206" y="365.3" width="1" height="14.5" fill="#f23645"/>
<rect x="205" y="372.9" width="3" height="4.8" fill="#f23645"/>
<rect x="210" y="371.2" width="1" height="16.6" fill="#f23645"/>
<rect x="209" y="377.4" width="3" height="7.3" fill="#f23645"/>
<rect x="215" y="374.0" width="1" height="12.8" fill="#089981"/>
<rect x="214" y="376.9" width="3" height="8.1" fill="#089981"/>
<rect x="219" y="375.7" width="1" height="24.2" fill="#f23645"/>
<rect x="218" y="376.9" width="3" height="19.9" fill="#f23645"/>
<rect x="223" y="382.1" width="1" height="36.8" fill="#f23645"/>
<rect x="222" y="396.1" width="3" height="17.6" fill="#f23645"/>
<rect x="227" y="403.3" width="1" height="21.4" fill="#089981"/>
<rect x="226" y="407.1" width="3" height="6.6" fill="#089981"/>
<rect x="231" y="403.3" width="1" height="13.8" fill="#f23645"/>
<rect x="230" y="407.1" width="3" height="1.4" fill="#f23645"/>
<rect x="235" y="407.1" width="1" height="10.7" fill="#f23645"/>
<rect x="234" y="408.0" width="3" height="5.7" fill="#f23645"/>
<rect x="240" y="404.0" width="1" height="10.0" fill="#089981"/>
<rect x="239" y="408.0" width="3" height="5.7" fill="#089981"/>
<rect x="244" y="403.0" width="1" height="6.2" fill="#089981"/>
<rect x="243" y="404.6" width="3" height="4.0" fill="#089981"/>
<rect x="248" y="404.7" width="1" height="7.9" fill="#f23645"/>
<rect x="247" y="405.1" width="3" height="6.4" fill="#f23645"/>
<rect x="252" y="404.0" width="1" height="7.9" fill="#089981"/>
<rect x="251" y="406.3" width="3" height="5.2" fill="#089981"/>
<rect x="256" y="405.1" width="1" height="6.4" fill="#089981"/>
<rect x="255" y="405.8" width="3" height="1.0" fill="#089981"/>
<rect x="261" y="391.2" width="1" height="15.6" fill="#089981"/>
<rect x="260" y="393.0" width="3" height="13.3" fill="#089981"/>
<rect x="265" y="391.2" width="1" height="12.4" fill="#f23645"/>
<rect x="264" y="393.0" width="3" height="9.3" fill="#f23645"/>
<rect x="269" y="399.2" width="1" height="5.9" fill="#f23645"/>
<rect x="268" y="399.9" width="3" height="3.5" fill="#f23645"/>
<rect x="273" y="398.2" width="1" height="4.7" fill="#089981"/>
<rect x="272" y="400.7" width="3" height="1.7" fill="#089981"/>
<rect x="277" y="396.1" width="1" height="5.9" fill="#089981"/>
<rect x="276" y="398.2" width="3" height="3.5" fill="#089981"/>
<rect x="282" y="388.1" width="1" height="13.0" fill="#089981"/>
<rect x="281" y="389.5" width="3" height="9.3" fill="#089981"/>
<rect x="286" y="388.1" width="1" height="6.9" fill="#f23645"/>
<rect x="285" y="389.9" width="3" height="3.1" fill="#f23645"/>
<rect x="290" y="389.8" width="1" height="10.7" fill="#f23645"/>
<rect x="289" y="391.8" width="3" height="7.3" fill="#f23645"/>
<rect x="294" y="395.0" width="1" height="4.7" fill="#f23645"/>
<rect x="293" y="397.0" width="3" height="1.4" fill="#f23645"/>
<rect x="298" y="397.4" width="1" height="15.6" fill="#f23645"/>
<rect x="297" y="397.9" width="3" height="12.6" fill="#f23645"/>
<rect x="302" y="408.3" width="1" height="11.6" fill="#f23645"/>
<rect x="301" y="410.0" width="3" height="8.6" fill="#f23645"/>
<rect x="307" y="415.2" width="1" height="7.8" fill="#f23645"/>
<rect x="306" y="417.4" width="3" height="2.9" fill="#f23645"/>
<rect x="311" y="414.0" width="1" height="7.6" fill="#089981"/>
<rect x="310" y="417.4" width="3" height="2.9" fill="#089981"/>
<rect x="315" y="406.0" width="1" height="12.1" fill="#089981"/>
<rect x="314" y="409.1" width="3" height="8.6" fill="#089981"/>
<rect x="319" y="403.1" width="1" height="18.5" fill="#f23645"/>
<rect x="318" y="409.1" width="3" height="12.1" fill="#f23645"/>
<rect x="323" y="415.2" width="1" height="9.5" fill="#089981"/>
<rect x="322" y="418.1" width="3" height="3.1" fill="#089981"/>
<rect x="328" y="416.0" width="1" height="7.8" fill="#f23645"/>
<rect x="327" y="417.8" width="3" height="1.4" fill="#f23645"/>
<rect x="332" y="417.4" width="1" height="6.4" fill="#f23645"/>
<rect x="331" y="418.6" width="3" height="1.2" fill="#f23645"/>
<rect x="336" y="418.1" width="1" height="29.9" fill="#f23645"/>
<rect x="335" y="419.1" width="3" height="24.9" fill="#f23645"/>
<rect x="340" y="437.1" width="1" height="23.5" fill="#f23645"/>
<rect x="339" y="443.3" width="3" height="3.5" fill="#f23645"/>
<rect x="344" y="439.4" width="1" height="16.8" fill="#f23645"/>
<rect x="343" y="446.3" width="3" height="9.9" fill="#f23645"/>
<rect x="349" y="431.9" width="1" height="31.1" fill="#089981"/>
<rect x="348" y="434.2" width="3" height="21.9" fill="#089981"/>
<rect x="353" y="434.2" width="1" height="20.7" fill="#f23645"/>
<rect x="352" y="434.2" width="3" height="15.6" fill="#f23645"/>
<rect x="357" y="442.0" width="1" height="9.0" fill="#089981"/>
<rect x="356" y="445.1" width="3" height="5.2" fill="#089981"/>
<rect x="361" y="434.2" width="1" height="12.6" fill="#089981"/>
<rect x="360" y="435.9" width="3" height="9.5" fill="#089981"/>
<rect x="365" y="436.1" width="1" height="8.5" fill="#f23645"/>
<rect x="364" y="436.1" width="3" height="5.9" fill="#f23645"/>
<rect x="370" y="430.7" width="1" height="11.2" fill="#089981"/>
<rect x="369" y="439.4" width="3" height="2.6" fill="#089981"/>
<rect x="374" y="435.0" width="1" height="7.8" fill="#f23645"/>
<rect x="373" y="438.8" width="3" height="4.0" fill="#f23645"/>
<rect x="378" y="439.9" width="1" height="8.1" fill="#f23645"/>
<rect x="377" y="442.3" width="3" height="2.2" fill="#f23645"/>
<rect x="382" y="438.8" width="1" height="6.2" fill="#089981"/>
<rect x="381" y="443.0" width="3" height="1.0" fill="#089981"/>
<rect x="386" y="441.1" width="1" height="2.6" fill="#089981"/>
<rect x="385" y="442.3" width="3" height="1.0" fill="#089981"/>
<rect x="390" y="438.2" width="1" height="4.7" fill="#089981"/>
<rect x="389" y="439.9" width="3" height="2.8" fill="#089981"/>
<rect x="395" y="439.4" width="1" height="5.7" fill="#f23645"/>
<rect x="394" y="439.9" width="3" height="4.1" fill="#f23645"/>
<rect x="399" y="435.0" width="1" height="9.7" fill="#f23645"/>
<rect x="398" y="442.8" width="3" height="1.2" fill="#f23645"/>
<rect x="403" y="422.1" width="1" height="25.9" fill="#089981"/>
<rect x="402" y="425.0" width="3" height="18.7" fill="#089981"/>
<rect x="407" y="416.0" width="1" height="10.0" fill="#089981"/>
<rect x="406" y="419.8" width="3" height="5.7" fill="#089981"/>
<rect x="411" y="419.8" width="1" height="7.9" fill="#f23645"/>
<rect x="410" y="420.0" width="3" height="3.8" fill="#f23645"/>
<rect x="416" y="416.9" width="1" height="9.2" fill="#089981"/>
<rect x="415" y="422.1" width="3" height="2.2" fill="#089981"/>
<rect x="420" y="415.2" width="1" height="7.4" fill="#089981"/>
<rect x="419" y="418.1" width="3" height="4.1" fill="#089981"/>
<rect x="424" y="414.0" width="1" height="8.1" fill="#f23645"/>
<rect x="423" y="418.1" width="3" height="3.5" fill="#f23645"/>
<rect x="428" y="416.9" width="1" height="9.2" fill="#089981"/>
<rect x="427" y="419.8" width="3" height="1.7" fill="#089981"/>
<rect x="432" y="415.1" width="1" height="6.9" fill="#f23645"/>
<rect x="431" y="419.8" width="3" height="1.0" fill="#f23645"/>
<rect x="437" y="418.0" width="1" height="9.2" fill="#f23645"/>
<rect x="436" y="420.3" width="3" height="1.2" fill="#f23645"/>
<rect x="441" y="412.2" width="1" height="9.9" fill="#089981"/>
<rect x="440" y="416.3" width="3" height="5.2" fill="#089981"/>
<rect x="445" y="412.2" width="1" height="5.9" fill="#089981"/>
<rect x="444" y="415.1" width="3" height="1.2" fill="#089981"/>
<rect x="449" y="414.2" width="1" height="5.2" fill="#f23645"/>
<rect x="448" y="415.6" width="3" height="2.4" fill="#f23645"/>
<rect x="453" y="416.0" width="1" height="4.3" fill="#f23645"/>
<rect x="452" y="416.0" width="3" height="3.8" fill="#f23645"/>
<rect x="458" y="416.8" width="1" height="5.2" fill="#089981"/>
<rect x="457" y="418.0" width="3" height="1.7" fill="#089981"/>
<rect x="462" y="416.0" width="1" height="9.0" fill="#f23645"/>
<rect x="461" y="418.0" width="3" height="1.7" fill="#f23645"/>
<rect x="466" y="415.6" width="1" height="5.2" fill="#f23645"/>
<rect x="465" y="418.0" width="3" height="1.0" fill="#f23645"/>
<rect x="470" y="375.4" width="1" height="44.4" fill="#089981"/>
<rect x="469" y="377.1" width="3" height="42.3" fill="#089981"/>
<rect x="474" y="346.0" width="1" height="32.8" fill="#089981"/>
<rect x="473" y="362.4" width="3" height="15.2" fill="#089981"/>
<rect x="478" y="335.1" width="1" height="29.9" fill="#089981"/>
<rect x="477" y="336.8" width="3" height="25.9" fill="#089981"/>
<rect x="483" y="334.4" width="1" height="17.6" fill="#f23645"/>
<rect x="482" y="337.3" width="3" height="7.8" fill="#f23645"/>
<rect x="487" y="332.2" width="1" height="23.0" fill="#f23645"/>
<rect x="486" y="344.3" width="3" height="2.2" fill="#f23645"/>
<rect x="491" y="320.1" width="1" height="34.0" fill="#089981"/>
<rect x="490" y="326.1" width="3" height="20.4" fill="#089981"/>
<rect x="495" y="321.3" width="1" height="18.3" fill="#f23645"/>
<rect x="494" y="326.1" width="3" height="8.6" fill="#f23645"/>
<rect x="499" y="330.4" width="1" height="17.3" fill="#f23645"/>
<rect x="498" y="334.4" width="3" height="6.4" fill="#f23645"/>
<rect x="504" y="329.2" width="1" height="12.8" fill="#f23645"/>
<rect x="503" y="340.3" width="3" height="1.4" fill="#f23645"/>
<rect x="508" y="340.8" width="1" height="9.9" fill="#f23645"/>
<rect x="507" y="341.3" width="3" height="7.6" fill="#f23645"/>
<rect x="512" y="336.1" width="1" height="27.6" fill="#089981"/>
<rect x="511" y="346.5" width="3" height="2.4" fill="#089981"/>
<rect x="516" y="339.9" width="1" height="22.1" fill="#089981"/>
<rect x="515" y="342.0" width="3" height="4.5" fill="#089981"/>
<rect x="520" y="336.1" width="1" height="14.5" fill="#f23645"/>
<rect x="519" y="341.7" width="3" height="1.0" fill="#f23645"/>
<rect x="525" y="333.4" width="1" height="16.6" fill="#089981"/>
<rect x="524" y="340.3" width="3" height="3.1" fill="#089981"/>
<rect x="529" y="325.2" width="1" height="15.6" fill="#089981"/>
<rect x="528" y="327.8" width="3" height="12.4" fill="#089981"/>
<rect x="533" y="320.1" width="1" height="25.4" fill="#f23645"/>
<rect x="532" y="327.8" width="3" height="15.9" fill="#f23645"/>
<rect x="537" y="337.3" width="1" height="6.4" fill="#089981"/>
<rect x="536" y="342.0" width="3" height="1.0" fill="#089981"/>
<rect x="541" y="340.3" width="1" height="8.3" fill="#089981"/>
<rect x="540" y="340.3" width="3" height="2.2" fill="#089981"/>
<rect x="546" y="335.1" width="1" height="7.4" fill="#089981"/>
<rect x="545" y="339.1" width="3" height="1.7" fill="#089981"/>
<rect x="550" y="323.5" width="1" height="20.2" fill="#089981"/>
<rect x="549" y="328.2" width="3" height="11.4" fill="#089981"/>
<rect x="554" y="325.2" width="1" height="8.1" fill="#089981"/>
<rect x="553" y="326.1" width="3" height="2.6" fill="#089981"/>
<rect x="558" y="315.4" width="1" height="17.3" fill="#f23645"/>
<rect x="557" y="326.1" width="3" height="5.5" fill="#f23645"/>
<rect x="562" y="329.2" width="1" height="15.6" fill="#f23645"/>
<rect x="561" y="331.3" width="3" height="11.8" fill="#f23645"/>
<rect x="566" y="340.3" width="1" height="7.4" fill="#f23645"/>
<rect x="565" y="341.3" width="3" height="1.2" fill="#f23645"/>
<rect x="571" y="340.5" width="1" height="7.8" fill="#089981"/>
<rect x="570" y="341.1" width="3" height="2.1" fill="#089981"/>
<rect x="575" y="333.1" width="1" height="14.3" fill="#089981"/>
<rect x="574" y="334.1" width="3" height="7.3" fill="#089981"/>
<rect x="579" y="329.0" width="1" height="7.6" fill="#f23645"/>
<rect x="578" y="334.1" width="3" height="1.7" fill="#f23645"/>
<rect x="583" y="326.2" width="1" height="9.7" fill="#089981"/>
<rect x="582" y="334.1" width="3" height="1.7" fill="#089981"/>
<rect x="587" y="330.2" width="1" height="26.4" fill="#f23645"/>
<rect x="586" y="334.1" width="3" height="21.4" fill="#f23645"/>
<rect x="592" y="342.3" width="1" height="15.6" fill="#089981"/>
<rect x="591" y="348.3" width="3" height="7.3" fill="#089981"/>
<rect x="596" y="341.1" width="1" height="8.6" fill="#089981"/>
<rect x="595" y="343.1" width="3" height="5.5" fill="#089981"/>
<rect x="600" y="340.0" width="1" height="5.7" fill="#f23645"/>
<rect x="599" y="343.1" width="3" height="1.7" fill="#f23645"/>
<rect x="604" y="325.0" width="1" height="23.0" fill="#089981"/>
<rect x="603" y="325.9" width="3" height="19.0" fill="#089981"/>
<rect x="608" y="310.6" width="1" height="18.3" fill="#089981"/>
<rect x="607" y="312.0" width="3" height="14.2" fill="#089981"/>
<rect x="613" y="305.1" width="1" height="13.5" fill="#f23645"/>
<rect x="612" y="312.0" width="3" height="4.8" fill="#f23645"/>
<rect x="617" y="315.1" width="1" height="17.6" fill="#f23645"/>
<rect x="616" y="315.8" width="3" height="14.9" fill="#f23645"/>
<rect x="621" y="329.7" width="1" height="22.1" fill="#f23645"/>
<rect x="620" y="330.2" width="3" height="7.4" fill="#f23645"/>
<rect x="625" y="336.6" width="1" height="10.0" fill="#f23645"/>
<rect x="624" y="337.1" width="3" height="5.7" fill="#f23645"/>
<rect x="629" y="338.8" width="1" height="6.9" fill="#089981"/>
<rect x="628" y="340.0" width="3" height="3.1" fill="#089981"/>
<rect x="634" y="326.2" width="1" height="17.3" fill="#f23645"/>
<rect x="633" y="339.7" width="3" height="1.0" fill="#f23645"/>
<rect x="638" y="333.1" width="1" height="16.6" fill="#f23645"/>
<rect x="637" y="340.5" width="3" height="4.0" fill="#f23645"/>
<rect x="642" y="339.7" width="1" height="8.6" fill="#089981"/>
<rect x="641" y="342.8" width="3" height="1.7" fill="#089981"/>
<rect x="646" y="340.0" width="1" height="6.6" fill="#f23645"/>
<rect x="645" y="342.8" width="3" height="1.2" fill="#f23645"/>
<rect x="650" y="337.9" width="1" height="20.7" fill="#f23645"/>
<rect x="649" y="343.1" width="3" height="12.4" fill="#f23645"/>
<rect x="654" y="351.4" width="1" height="24.2" fill="#f23645"/>
<rect x="653" y="354.4" width="3" height="13.3" fill="#f23645"/>
<rect x="659" y="364.7" width="1" height="21.9" fill="#f23645"/>
<rect x="658" y="367.0" width="3" height="7.6" fill="#f23645"/>
<rect x="663" y="352.6" width="1" height="25.9" fill="#089981"/>
<rect x="662" y="353.8" width="3" height="20.7" fill="#089981"/>
<rect x="667" y="346.9" width="1" height="11.8" fill="#089981"/>
<rect x="666" y="350.9" width="3" height="3.5" fill="#089981"/>
<rect x="671" y="349.2" width="1" height="7.8" fill="#f23645"/>
<rect x="670" y="350.9" width="3" height="3.5" fill="#f23645"/>
<rect x="675" y="343.1" width="1" height="13.8" fill="#f23645"/>
<rect x="674" y="352.6" width="3" height="1.2" fill="#f23645"/>
<rect x="680" y="349.2" width="1" height="8.6" fill="#089981"/>
<rect x="679" y="353.2" width="3" height="1.0" fill="#089981"/>
<rect x="684" y="351.4" width="1" height="3.5" fill="#089981"/>
<rect x="683" y="352.1" width="3" height="1.7" fill="#089981"/>
<rect x="688" y="342.8" width="1" height="11.6" fill="#089981"/>
<rect x="687" y="344.9" width="3" height="7.8" fill="#089981"/>
<rect x="692" y="342.8" width="1" height="9.0" fill="#f23645"/>
<rect x="691" y="344.5" width="3" height="2.9" fill="#f23645"/>
<rect x="696" y="344.9" width="1" height="11.8" fill="#f23645"/>
<rect x="695" y="347.5" width="3" height="8.1" fill="#f23645"/>
<rect x="701" y="333.0" width="1" height="24.5" fill="#089981"/>
<rect x="700" y="337.9" width="3" height="16.6" fill="#089981"/>
<rect x="705" y="331.0" width="1" height="8.2" fill="#089981"/>
<rect x="704" y="335.9" width="3" height="2.5" fill="#089981"/>
<rect x="709" y="334.0" width="1" height="13.7" fill="#f23645"/>
<rect x="708" y="334.9" width="3" height="10.8" fill="#f23645"/>
<rect x="713" y="342.4" width="1" height="4.3" fill="#089981"/>
<rect x="712" y="344.3" width="3" height="1.4" fill="#089981"/>
<rect x="717" y="334.0" width="1" height="11.2" fill="#089981"/>
<rect x="716" y="337.9" width="3" height="6.9" fill="#089981"/>
<rect x="721" y="336.5" width="1" height="7.2" fill="#f23645"/>
<rect x="720" y="337.9" width="3" height="4.5" fill="#f23645"/>
<rect x="726" y="332.0" width="1" height="11.2" fill="#089981"/>
<rect x="725" y="333.0" width="3" height="9.4" fill="#089981"/>
<rect x="730" y="313.8" width="1" height="22.1" fill="#089981"/>
<rect x="729" y="316.9" width="3" height="17.0" fill="#089981"/>
<rect x="734" y="291.8" width="1" height="26.4" fill="#089981"/>
<rect x="733" y="296.7" width="3" height="20.6" fill="#089981"/>
<rect x="738" y="287.9" width="1" height="13.3" fill="#089981"/>
<rect x="737" y="296.7" width="3" height="1.0" fill="#089981"/>
<rect x="742" y="294.2" width="1" height="7.8" fill="#f23645"/>
<rect x="741" y="296.7" width="3" height="2.0" fill="#f23645"/>
<rect x="747" y="291.5" width="1" height="7.8" fill="#089981"/>
<rect x="746" y="295.4" width="3" height="3.3" fill="#089981"/>
<rect x="751" y="283.0" width="1" height="13.1" fill="#089981"/>
<rect x="750" y="291.5" width="3" height="4.3" fill="#089981"/>
<rect x="755" y="277.2" width="1" height="21.5" fill="#089981"/>
<rect x="754" y="277.2" width="3" height="14.7" fill="#089981"/>
<rect x="759" y="247.2" width="1" height="33.3" fill="#089981"/>
<rect x="758" y="252.7" width="3" height="25.1" fill="#089981"/>
<rect x="763" y="236.0" width="1" height="22.5" fill="#089981"/>
<rect x="762" y="241.3" width="3" height="12.3" fill="#089981"/>
<rect x="768" y="220.4" width="1" height="22.5" fill="#089981"/>
<rect x="767" y="235.4" width="3" height="6.5" fill="#089981"/>
<rect x="772" y="226.8" width="1" height="11.2" fill="#089981"/>
<rect x="771" y="230.1" width="3" height="5.3" fill="#089981"/>
<rect x="776" y="204.1" width="1" height="27.0" fill="#089981"/>
<rect x="775" y="211.9" width="3" height="18.2" fill="#089981"/>
<rect x="780" y="200.8" width="1" height="17.0" fill="#089981"/>
<rect x="779" y="210.6" width="3" height="1.4" fill="#089981"/>
<rect x="784" y="206.6" width="1" height="20.2" fill="#f23645"/>
<rect x="783" y="210.6" width="3" height="2.9" fill="#f23645"/>
<rect x="789" y="210.6" width="1" height="25.5" fill="#f23645"/>
<rect x="788" y="212.5" width="3" height="13.1" fill="#f23645"/>
<rect x="793" y="210.0" width="1" height="29.0" fill="#089981"/>
<rect x="792" y="217.0" width="3" height="9.2" fill="#089981"/>
<rect x="797" y="213.1" width="1" height="17.6" fill="#089981"/>
<rect x="796" y="214.5" width="3" height="2.9" fill="#089981"/>
<rect x="801" y="208.0" width="1" height="9.8" fill="#089981"/>
<rect x="800" y="213.5" width="3" height="2.0" fill="#089981"/>
<rect x="805" y="198.8" width="1" height="15.1" fill="#089981"/>
<rect x="804" y="198.8" width="3" height="15.1" fill="#089981"/>
<rect x="809" y="192.0" width="1" height="19.6" fill="#f23645"/>
<rect x="808" y="198.8" width="3" height="8.8" fill="#f23645"/>
<rect x="814" y="197.8" width="1" height="18.0" fill="#f23645"/>
<rect x="813" y="207.2" width="3" height="1.0" fill="#f23645"/>
<rect x="818" y="203.3" width="1" height="16.5" fill="#089981"/>
<rect x="817" y="206.1" width="3" height="2.5" fill="#089981"/>
<rect x="822" y="198.8" width="1" height="20.2" fill="#f23645"/>
<rect x="821" y="206.1" width="3" height="12.9" fill="#f23645"/>
<rect x="826" y="215.1" width="1" height="30.7" fill="#f23645"/>
<rect x="825" y="217.8" width="3" height="23.1" fill="#f23645"/>
<rect x="830" y="235.4" width="1" height="17.2" fill="#f23645"/>
<rect x="829" y="240.5" width="3" height="9.8" fill="#f23645"/>
<rect x="835" y="237.0" width="1" height="16.6" fill="#089981"/>
<rect x="834" y="238.6" width="3" height="11.8" fill="#089981"/>
<rect x="839" y="213.9" width="1" height="26.0" fill="#089981"/>
<rect x="838" y="215.1" width="3" height="24.3" fill="#089981"/>
<rect x="843" y="215.1" width="1" height="19.0" fill="#f23645"/>
<rect x="842" y="215.1" width="3" height="13.1" fill="#f23645"/>
<rect x="847" y="217.8" width="1" height="13.7" fill="#089981"/>
<rect x="846" y="219.0" width="3" height="9.2" fill="#089981"/>
<rect x="851" y="192.9" width="1" height="30.0" fill="#089981"/>
<rect x="850" y="194.9" width="3" height="24.5" fill="#089981"/>
<rect x="856" y="178.2" width="1" height="19.4" fill="#089981"/>
<rect x="855" y="185.2" width="3" height="10.0" fill="#089981"/>
<rect x="860" y="150.9" width="1" height="34.7" fill="#089981"/>
<rect x="859" y="158.3" width="3" height="27.3" fill="#089981"/>
<rect x="864" y="150.2" width="1" height="18.8" fill="#f23645"/>
<rect x="863" y="158.3" width="3" height="1.5" fill="#f23645"/>
<rect x="868" y="147.3" width="1" height="20.3" fill="#f23645"/>
<rect x="867" y="158.9" width="3" height="3.1" fill="#f23645"/>
<rect x="872" y="118.3" width="1" height="44.2" fill="#089981"/>
<rect x="871" y="123.3" width="3" height="38.7" fill="#089981"/>
<rect x="877" y="102.3" width="1" height="23.4" fill="#089981"/>
<rect x="876" y="106.0" width="3" height="17.3" fill="#089981"/>
<rect x="881" y="102.3" width="1" height="29.9" fill="#f23645"/>
<rect x="880" y="106.0" width="3" height="22.9" fill="#f23645"/>
<rect x="885" y="114.1" width="1" height="32.4" fill="#f23645"/>
<rect x="884" y="128.1" width="3" height="11.4" fill="#f23645"/>
<rect x="889" y="134.4" width="1" height="11.1" fill="#f23645"/>
<rect x="888" y="139.1" width="3" height="2.6" fill="#f23645"/>
<rect x="893" y="123.8" width="1" height="19.7" fill="#089981"/>
<rect x="892" y="134.9" width="3" height="6.8" fill="#089981"/>
<rect x="897" y="133.6" width="1" height="25.3" fill="#f23645"/>
<rect x="896" y="134.4" width="3" height="18.1" fill="#f23645"/>
<rect x="902" y="148.4" width="1" height="30.2" fill="#f23645"/>
<rect x="901" y="152.1" width="3" height="26.5" fill="#f23645"/>
<rect x="906" y="145.0" width="1" height="33.5" fill="#089981"/>
<rect x="905" y="150.2" width="3" height="28.4" fill="#089981"/>
<rect x="910" y="149.7" width="1" height="13.8" fill="#f23645"/>
<rect x="909" y="150.2" width="3" height="12.4" fill="#f23645"/>
<rect x="914" y="91.2" width="1" height="72.6" fill="#089981"/>
<rect x="913" y="97.1" width="3" height="65.4" fill="#089981"/>
<rect x="918" y="96.8" width="1" height="18.8" fill="#f23645"/>
<rect x="917" y="97.1" width="3" height="6.5" fill="#f23645"/>
<rect x="923" y="84.2" width="1" height="25.4" fill="#089981"/>
<rect x="922" y="103.0" width="3" height="1.1" fill="#089981"/>
<rect x="927" y="100.8" width="1" height="48.8" fill="#f23645"/>
<rect x="926" y="102.6" width="3" height="44.2" fill="#f23645"/>
<rect x="931" y="117.8" width="1" height="34.7" fill="#089981"/>
<rect x="930" y="122.6" width="3" height="24.3" fill="#089981"/>
<rect x="935" y="115.2" width="1" height="17.9" fill="#f23645"/>
<rect x="934" y="122.0" width="3" height="11.1" fill="#f23645"/>
<rect x="939" y="118.3" width="1" height="21.2" fill="#089981"/>
<rect x="938" y="131.2" width="3" height="1.3" fill="#089981"/>
<rect x="944" y="131.2" width="1" height="26.4" fill="#f23645"/>
<rect x="943" y="131.8" width="3" height="16.0" fill="#f23645"/>
<rect x="948" y="141.0" width="1" height="16.6" fill="#089981"/>
<rect x="947" y="146.5" width="3" height="1.3" fill="#089981"/>
<rect x="952" y="133.1" width="1" height="13.8" fill="#089981"/>
<rect x="951" y="144.1" width="3" height="2.4" fill="#089981"/>
<rect x="956" y="133.1" width="1" height="29.5" fill="#f23645"/>
<rect x="955" y="144.1" width="3" height="8.3" fill="#f23645"/>
<rect x="960" y="141.6" width="1" height="15.7" fill="#089981"/>
<rect x="959" y="150.8" width="3" height="1.8" fill="#089981"/>
<rect x="965" y="135.7" width="1" height="19.7" fill="#089981"/>
<rect x="964" y="138.3" width="3" height="13.5" fill="#089981"/>
<rect x="969" y="134.2" width="1" height="21.8" fill="#f23645"/>
<rect x="968" y="138.3" width="3" height="16.2" fill="#f23645"/>
<rect x="973" y="133.9" width="1" height="23.4" fill="#089981"/>
<rect x="972" y="153.0" width="3" height="1.5" fill="#089981"/>
<rect x="977" y="151.2" width="1" height="9.8" fill="#f23645"/>
<rect x="976" y="153.0" width="3" height="4.8" fill="#f23645"/>
<rect x="981" y="149.9" width="1" height="7.9" fill="#089981"/>
<rect x="980" y="153.6" width="3" height="4.2" fill="#089981"/>
<rect x="985" y="144.9" width="1" height="11.1" fill="#089981"/>
<rect x="984" y="153.0" width="3" height="1.1" fill="#089981"/>
<rect x="990" y="144.9" width="1" height="10.5" fill="#089981"/>
<rect x="989" y="152.7" width="3" height="1.5" fill="#089981"/>
<rect x="994" y="137.0" width="1" height="17.9" fill="#089981"/>
<rect x="993" y="149.4" width="3" height="4.8" fill="#089981"/>
<rect x="998" y="135.2" width="1" height="14.7" fill="#089981"/>
<rect x="997" y="137.0" width="3" height="12.9" fill="#089981"/>
<rect x="1002" y="106.2" width="1" height="31.3" fill="#089981"/>
<rect x="1001" y="109.9" width="3" height="27.6" fill="#089981"/>
<rect x="1006" y="103.8" width="1" height="16.6" fill="#f23645"/>
<rect x="1005" y="109.9" width="3" height="5.9" fill="#f23645"/>
<rect x="1011" y="112.1" width="1" height="11.4" fill="#f23645"/>
<rect x="1010" y="114.9" width="3" height="7.4" fill="#f23645"/>
<rect x="1015" y="114.0" width="1" height="21.8" fill="#f23645"/>
<rect x="1014" y="121.3" width="3" height="9.2" fill="#f23645"/>
<rect x="1019" y="128.3" width="1" height="12.4" fill="#f23645"/>
<rect x="1018" y="129.6" width="3" height="3.1" fill="#f23645"/>
<rect x="1023" y="119.9" width="1" height="21.8" fill="#089981"/>
<rect x="1022" y="123.2" width="3" height="9.6" fill="#089981"/>
<rect x="1027" y="117.3" width="1" height="9.2" fill="#f23645"/>
<rect x="1026" y="123.2" width="3" height="1.0" fill="#f23645"/>
<rect x="1032" y="119.9" width="1" height="18.4" fill="#f23645"/>
<rect x="1031" y="123.2" width="3" height="12.0" fill="#f23645"/>
<rect x="1036" y="132.0" width="1" height="5.0" fill="#089981"/>
<rect x="1035" y="134.6" width="3" height="1.5" fill="#089981"/>
<rect x="1040" y="132.8" width="1" height="6.1" fill="#f23645"/>
<rect x="1039" y="134.6" width="3" height="3.7" fill="#f23645"/>
<rect x="1044" y="137.0" width="1" height="40.6" fill="#f23645"/>
<rect x="1043" y="137.9" width="3" height="27.3" fill="#f23645"/>
<rect x="1048" y="162.3" width="1" height="11.6" fill="#f23645"/>
<rect x="1047" y="164.7" width="3" height="3.7" fill="#f23645"/>
<rect x="1053" y="164.7" width="1" height="12.9" fill="#f23645"/>
<rect x="1052" y="168.3" width="3" height="1.0" fill="#f23645"/>
<rect x="1057" y="169.3" width="1" height="35.4" fill="#f23645"/>
<rect x="1056" y="169.3" width="3" height="30.4" fill="#f23645"/>
<rect x="1061" y="178.1" width="1" height="22.1" fill="#089981"/>
<rect x="1060" y="182.2" width="3" height="17.5" fill="#089981"/>
<rect x="1065" y="181.8" width="1" height="6.8" fill="#f23645"/>
<rect x="1064" y="182.2" width="3" height="2.2" fill="#f23645"/>
<rect x="1069" y="170.2" width="1" height="18.4" fill="#089981"/>
<rect x="1068" y="171.1" width="3" height="13.8" fill="#089981"/>
<rect x="1073" y="162.3" width="1" height="14.4" fill="#089981"/>
<rect x="1072" y="163.4" width="3" height="8.1" fill="#089981"/>
<rect x="1078" y="160.0" width="1" height="15.7" fill="#f23645"/>
<rect x="1077" y="163.4" width="3" height="7.4" fill="#f23645"/>
<rect x="1082" y="148.1" width="1" height="24.0" fill="#089981"/>
<rect x="1081" y="149.0" width="3" height="21.8" fill="#089981"/>
<rect x="1086" y="131.5" width="1" height="18.4" fill="#089981"/>
<rect x="1085" y="133.9" width="3" height="15.5" fill="#089981"/>
<rect x="1090" y="123.2" width="1" height="16.2" fill="#089981"/>
<rect x="1089" y="132.0" width="3" height="2.2" fill="#089981"/>
<rect x="1094" y="130.9" width="1" height="7.4" fill="#f23645"/>
<rect x="1093" y="132.0" width="3" height="1.8" fill="#f23645"/>
<rect x="1099" y="119.9" width="1" height="15.9" fill="#089981"/>
<rect x="1098" y="132.8" width="3" height="1.5" fill="#089981"/>
<rect x="1103" y="107.5" width="1" height="25.8" fill="#089981"/>
<rect x="1102" y="113.0" width="3" height="19.7" fill="#089981"/>
<rect x="1107" y="105.1" width="1" height="34.7" fill="#f23645"/>
<rect x="1106" y="113.0" width="3" height="25.8" fill="#f23645"/>
<rect x="1111" y="126.5" width="1" height="15.1" fill="#089981"/>
<rect x="1110" y="129.6" width="3" height="9.2" fill="#089981"/>
<rect x="1115" y="128.7" width="1" height="24.9" fill="#f23645"/>
<rect x="1114" y="129.6" width="3" height="17.5" fill="#f23645"/>
<rect x="1120" y="143.8" width="1" height="101.9" fill="#f23645"/>
<rect x="1119" y="147.0" width="3" height="57.7" fill="#f23645"/>
<rect x="1124" y="199.1" width="1" height="24.5" fill="#f23645"/>
<rect x="1123" y="204.7" width="3" height="9.2" fill="#f23645"/>
<rect x="1128" y="165.4" width="1" height="52.2" fill="#089981"/>
<rect x="1127" y="169.6" width="3" height="44.2" fill="#089981"/>
<rect x="1132" y="155.4" width="1" height="25.3" fill="#089981"/>
<rect x="1131" y="160.4" width="3" height="10.1" fill="#089981"/>
<rect x="1136" y="159.5" width="1" height="38.3" fill="#f23645"/>
<rect x="1135" y="161.0" width="3" height="11.4" fill="#f23645"/>
<rect x="1140" y="163.2" width="1" height="31.0" fill="#f23645"/>
<rect x="1139" y="172.0" width="3" height="21.0" fill="#f23645"/>
<rect x="1145" y="177.6" width="1" height="26.2" fill="#f23645"/>
<rect x="1144" y="193.0" width="3" height="4.8" fill="#f23645"/>
<rect x="1149" y="191.8" width="1" height="28.2" fill="#f23645"/>
<rect x="1148" y="197.3" width="3" height="7.4" fill="#f23645"/>
<rect x="1153" y="193.6" width="1" height="11.1" fill="#089981"/>
<rect x="1152" y="198.2" width="3" height="6.5" fill="#089981"/>
<rect x="1157" y="182.5" width="1" height="20.8" fill="#089981"/>
<rect x="1156" y="188.1" width="3" height="10.5" fill="#089981"/>
<rect x="1161" y="177.0" width="1" height="17.5" fill="#f23645"/>
<rect x="1160" y="188.1" width="3" height="1.0" fill="#f23645"/>
<rect x="1166" y="174.2" width="1" height="28.6" fill="#f23645"/>
<rect x="1165" y="188.1" width="3" height="12.0" fill="#f23645"/>
<rect x="1170" y="198.6" width="1" height="18.1" fill="#f23645"/>
<rect x="1169" y="199.1" width="3" height="7.4" fill="#f23645"/>
<rect x="1174" y="193.6" width="1" height="12.9" fill="#089981"/>
<rect x="1173" y="201.0" width="3" height="5.5" fill="#089981"/>
<rect x="1178" y="183.5" width="1" height="18.4" fill="#089981"/>
<rect x="1177" y="193.6" width="3" height="7.9" fill="#089981"/>
<rect x="1182" y="189.4" width="1" height="5.2" fill="#089981"/>
<rect x="1181" y="190.8" width="3" height="2.8" fill="#089981"/>
<rect x="1187" y="166.9" width="1" height="26.7" fill="#089981"/>
<rect x="1186" y="168.7" width="3" height="23.0" fill="#089981"/>
<rect x="1191" y="159.1" width="1" height="16.6" fill="#f23645"/>
<rect x="1190" y="169.1" width="3" height="4.8" fill="#f23645"/>
<rect x="1195" y="167.2" width="1" height="25.4" fill="#f23645"/>
<rect x="1194" y="173.3" width="3" height="15.7" fill="#f23645"/>
<rect x="1199" y="184.3" width="1" height="18.4" fill="#f23645"/>
<rect x="1198" y="190.0" width="3" height="7.0" fill="#f23645"/>
<rect x="1203" y="191.3" width="1" height="28.5" fill="#f23645"/>
<rect x="1202" y="196.1" width="3" height="10.4" fill="#f23645"/>
<rect x="1208" y="196.1" width="1" height="10.6" fill="#089981"/>
<rect x="1207" y="202.0" width="3" height="4.4" fill="#089981"/>
<rect x="1212" y="195.3" width="1" height="8.4" fill="#089981"/>
<rect x="1211" y="199.1" width="3" height="3.5" fill="#089981"/>
<rect x="1216" y="194.1" width="1" height="8.6" fill="#089981"/>
<rect x="1215" y="195.7" width="3" height="3.8" fill="#089981"/>
<rect x="1220" y="195.1" width="1" height="37.8" fill="#f23645"/>
<rect x="1219" y="195.7" width="3" height="32.9" fill="#f23645"/>
<rect x="1224" y="222.3" width="1" height="63.4" fill="#f23645"/>
<rect x="1223" y="228.0" width="3" height="34.9" fill="#f23645"/>
<rect x="1228" y="241.3" width="1" height="32.3" fill="#089981"/>
<rect x="1227" y="247.3" width="3" height="15.6" fill="#089981"/>
<rect x="1233" y="244.2" width="1" height="21.5" fill="#f23645"/>
<rect x="1232" y="247.3" width="3" height="12.2" fill="#f23645"/>
<rect x="1237" y="242.2" width="1" height="28.6" fill="#089981"/>
<rect x="1236" y="246.0" width="3" height="13.4" fill="#089981"/>
<rect x="1241" y="240.1" width="1" height="13.9" fill="#f23645"/>
<rect x="1240" y="246.0" width="3" height="3.5" fill="#f23645"/>
<rect x="1245" y="226.1" width="1" height="27.5" fill="#089981"/>
<rect x="1244" y="229.9" width="3" height="19.9" fill="#089981"/>
<rect x="1249" y="222.3" width="1" height="15.2" fill="#f23645"/>
<rect x="1248" y="229.9" width="3" height="2.9" fill="#f23645"/>
<rect x="1254" y="223.2" width="1" height="25.7" fill="#f23645"/>
<rect x="1253" y="232.5" width="3" height="16.1" fill="#f23645"/>
<rect x="1258" y="230.3" width="1" height="22.4" fill="#f23645"/>
<rect x="1257" y="248.0" width="3" height="1.0" fill="#f23645"/>
<rect x="1262" y="232.8" width="1" height="42.7" fill="#f23645"/>
<rect x="1261" y="248.3" width="3" height="20.3" fill="#f23645"/>
<rect x="1266" y="265.4" width="1" height="19.4" fill="#f23645"/>
<rect x="1265" y="268.3" width="3" height="12.3" fill="#f23645"/>
<rect x="1270" y="268.3" width="1" height="12.7" fill="#089981"/>
<rect x="1269" y="274.3" width="3" height="6.3" fill="#089981"/>
<rect x="1275" y="266.3" width="1" height="25.3" fill="#f23645"/>
<rect x="1274" y="274.3" width="3" height="8.5" fill="#f23645"/>
<rect x="1279" y="268.3" width="1" height="27.1" fill="#f23645"/>
<rect x="1278" y="282.3" width="3" height="7.2" fill="#f23645"/>
<rect x="1283" y="274.3" width="1" height="23.2" fill="#089981"/>
<rect x="1282" y="279.3" width="3" height="10.1" fill="#089981"/>
<rect x="1287" y="279.3" width="1" height="4.4" fill="#f23645"/>
<rect x="1286" y="279.3" width="3" height="1.0" fill="#f23645"/>
</g>
<line x1="348.5" y1="464" x2="1288" y2="225.5" stroke="#000" stroke-width="2.3" stroke-linecap="round"/>
<line x1="13" x2="1721" y1="134" y2="134" stroke="#f23645" stroke-width="2" stroke-dasharray="10 12"/>
<line x1="868" x2="1721" y1="161" y2="161" stroke="#2962ff" stroke-width="2" stroke-dasharray="10 12"/>
<line x1="13" x2="1721" y1="290" y2="290" stroke="#2962ff" stroke-width="2" stroke-dasharray="10 12"/>
<line x1="923" x2="1721" y1="84" y2="84" stroke="#4caf50" stroke-width="2" stroke-dasharray="10 12"/>
<line x1="13" x2="1721" y1="457" y2="457" stroke="#000000" stroke-width="2" stroke-dasharray="10 12"/>
<line x1="381.5" x2="1308.5" y1="84.5" y2="84.5" stroke="#000" stroke-width="1" shape-rendering="crispEdges"/>
<line x1="381.5" x2="1308.5" y1="229.5" y2="229.5" stroke="#000" stroke-width="1" shape-rendering="crispEdges"/>
<line x1="381.5" x2="1308.5" y1="319.5" y2="319.5" stroke="#000" stroke-width="1" shape-rendering="crispEdges"/>
<line x1="381.5" x2="1308.5" y1="464.5" y2="464.5" stroke="#000" stroke-width="1" shape-rendering="crispEdges"/>
<line x1="13" x2="1720" y1="280.5" y2="280.5" stroke="#f23645" stroke-width="1" stroke-dasharray="1 2"/>
<defs><linearGradient id="ob" gradientUnits="userSpaceOnUse" x1="0" y1="590" x2="0" y2="646.2"><stop offset="0" stop-color="#4caf50" stop-opacity="1"/><stop offset="1" stop-color="#4caf50" stop-opacity="0"/></linearGradient><clipPath id="obc"><rect x="0" y="595" width="1716" height="51.2"/></clipPath></defs>
<polygon clip-path="url(#obc)" fill="url(#ob)" points="12.8,646.2 12.8,702.0 17.8,696.4 21.8,693.0 25.8,699.2 29.8,691.1 33.8,693.6 38.8,692.6 42.8,699.8 46.8,704.8 50.8,712.3 54.8,708.0 58.8,693.6 63.8,688.9 67.8,705.8 71.8,720.4 75.8,719.3 79.8,727.9 84.8,721.7 88.8,726.4 92.8,730.2 96.8,729.2 100.8,729.2 105.8,724.9 109.8,728.7 113.8,711.4 117.8,716.1 121.8,709.9 126.8,712.9 130.8,715.2 134.8,704.3 138.8,711.0 142.8,705.4 146.8,702.4 151.8,709.5 155.8,696.4 159.8,689.8 163.8,716.7 167.8,718.5 172.8,728.3 176.8,730.5 180.8,734.9 184.8,735.4 188.8,700.1 193.8,722.7 197.8,720.3 201.8,713.6 205.8,716.1 209.8,719.9 214.8,712.8 218.8,723.6 222.8,731.8 226.8,725.3 230.8,725.9 234.8,728.7 239.8,722.4 243.8,718.5 247.8,723.0 251.8,716.9 255.8,716.3 260.8,701.5 264.8,709.1 268.8,710.0 272.8,706.8 276.8,703.5 281.8,693.1 285.8,696.8 289.8,703.2 293.8,702.2 297.8,714.4 301.8,721.4 306.8,722.9 310.8,718.1 314.8,705.4 318.8,717.2 322.8,712.6 327.8,713.6 331.8,714.3 335.8,735.1 339.8,737.0 343.8,743.0 348.8,711.0 352.8,722.5 356.8,716.7 360.8,705.8 364.8,710.8 369.8,707.7 373.8,710.7 377.8,712.3 381.8,710.0 385.8,709.0 389.8,705.2 394.8,710.0 398.8,710.0 402.8,681.9 406.8,675.8 410.8,681.5 415.8,679.3 419.8,674.3 423.8,679.9 427.8,677.5 431.8,679.2 436.8,680.5 440.8,672.3 444.8,670.5 448.8,676.8 452.8,680.4 457.8,677.2 461.8,681.2 465.8,679.8 469.8,631.2 473.8,623.0 477.8,612.8 482.8,626.3 486.8,628.5 490.8,619.8 494.8,632.7 498.8,641.3 503.8,642.5 507.8,652.9 511.8,651.1 515.8,647.9 519.8,648.7 524.8,646.9 528.8,637.9 532.8,662.4 536.8,660.9 540.8,659.4 545.8,658.3 549.8,648.8 553.8,647.1 557.8,656.8 561.8,674.4 565.8,673.8 570.8,672.1 574.8,664.2 578.8,667.2 582.8,665.1 586.8,697.0 591.8,687.5 595.8,681.2 599.8,683.6 603.8,663.1 607.8,651.8 612.8,658.8 616.8,676.8 620.8,684.7 624.8,690.4 628.8,687.3 633.8,687.9 637.8,692.8 641.8,690.5 645.8,692.1 649.8,706.5 653.8,718.7 658.8,724.8 662.8,696.3 666.8,692.9 670.8,696.7 674.8,696.0 679.8,695.0 683.8,693.5 687.8,683.3 691.8,687.1 695.8,698.4 700.8,675.5 704.8,673.3 708.8,686.8 712.8,685.1 716.8,677.1 720.8,683.6 725.8,672.3 729.8,656.8 733.8,642.4 737.8,642.4 741.8,645.6 746.8,643.1 750.8,640.3 754.8,631.2 758.8,619.9 762.8,615.8 767.8,613.8 771.8,612.1 775.8,607.0 779.8,606.6 783.8,611.7 788.8,631.6 792.8,627.6 796.8,626.4 800.8,625.9 804.8,619.4 808.8,633.7 813.8,634.4 817.8,633.2 821.8,654.0 825.8,681.1 829.8,690.5 834.8,679.6 838.8,662.1 842.8,675.0 846.8,668.6 850.8,654.3 855.8,649.4 859.8,637.8 863.8,639.3 867.8,641.7 871.8,627.6 876.8,622.8 880.8,644.0 884.8,652.9 888.8,654.7 892.8,651.6 896.8,666.4 901.8,684.9 905.8,669.9 909.8,677.9 913.8,651.9 917.8,655.8 922.8,655.6 926.8,680.8 930.8,671.1 934.8,676.5 938.8,675.7 943.8,684.5 947.8,683.9 951.8,682.7 955.8,687.6 959.8,686.6 964.8,679.2 968.8,689.7 972.8,688.7 976.8,691.9 980.8,688.9 984.8,688.5 989.8,688.2 993.8,685.4 997.8,675.6 1001.8,658.2 1005.8,663.8 1010.8,670.0 1014.8,677.6 1018.8,679.6 1022.8,672.3 1026.8,673.2 1031.8,684.3 1035.8,683.8 1039.8,687.5 1043.8,710.4 1047.8,712.7 1052.8,713.4 1056.8,732.3 1060.8,713.9 1064.8,715.3 1068.8,702.4 1072.8,695.5 1077.8,701.2 1081.8,683.1 1085.8,672.7 1089.8,671.5 1093.8,673.2 1098.8,672.4 1102.8,658.8 1106.8,682.5 1110.8,676.2 1114.8,689.9 1119.8,720.9 1123.8,724.6 1127.8,696.2 1131.8,691.3 1135.8,697.3 1139.8,706.8 1144.8,708.9 1148.8,712.0 1152.8,707.6 1156.8,700.7 1160.8,701.2 1165.8,707.4 1169.8,710.9 1173.8,706.4 1177.8,700.4 1181.8,698.2 1186.8,681.7 1190.8,685.7 1194.8,696.5 1198.8,701.8 1202.8,707.9 1207.8,704.0 1211.8,701.3 1215.8,698.2 1219.8,719.6 1223.8,735.0 1227.8,721.6 1232.8,726.9 1236.8,715.8 1240.8,717.6 1244.8,702.3 1248.8,704.0 1253.8,712.7 1257.8,712.9 1261.8,723.1 1265.8,728.6 1269.8,722.7 1274.8,726.8 1278.8,730.0 1282.8,720.0 1286.8,720.4 1286.8,646.2"/>
<polyline fill="none" stroke="#fdd835" stroke-width="1.3" stroke-linejoin="round" points="12.8,701.1 18.1,702.4 26.5,700.7 39.1,697.9 47.5,696.0 51.7,696.4 55.8,697.9 64.3,698.3 68.4,699.2 71.8,700.0 75.8,701.6 79.8,704.1 84.8,705.7 88.8,708.2 92.8,710.8 96.8,713.5 100.8,715.6 105.8,717.0 109.8,718.2 113.8,718.4 117.8,720.0 121.8,721.5 126.8,722.0 130.8,721.6 134.8,720.6 138.8,719.4 142.8,718.2 146.8,716.5 151.8,715.0 155.8,712.7 159.8,709.8 163.8,709.3 167.8,708.5 172.8,709.7 176.8,710.8 180.8,712.6 184.8,714.2 188.8,713.1 193.8,714.4 197.8,715.1 201.8,715.7 205.8,716.6 209.8,717.4 214.8,718.6 218.8,721.0 222.8,722.0 226.8,722.5 230.8,722.4 234.8,722.2 239.8,721.3 243.8,720.1 247.8,721.8 251.8,721.3 255.8,721.1 260.8,720.2 264.8,719.7 268.8,719.0 272.8,718.6 276.8,717.1 281.8,714.4 285.8,712.3 289.8,710.7 293.8,708.8 297.8,708.2 301.8,708.4 306.8,708.4 310.8,708.5 314.8,707.7 318.8,708.9 322.8,709.1 327.8,709.4 331.8,709.9 335.8,712.2 339.8,715.3 343.8,718.6 348.8,719.2 352.8,720.6 356.8,720.8 360.8,719.7 364.8,718.8 369.8,718.0 373.8,718.4 377.8,718.1 381.8,717.9 385.8,717.6 389.8,716.9 394.8,715.1 398.8,713.2 402.8,708.8 406.8,706.3 410.8,703.4 415.8,700.7 419.8,698.5 423.8,696.3 427.8,694.1 431.8,691.8 436.8,689.6 440.8,686.9 444.8,684.1 448.8,682.1 452.8,680.0 457.8,677.6 461.8,677.6 465.8,677.9 469.8,674.3 473.8,670.3 477.8,665.9 482.8,662.0 486.8,658.5 490.8,654.3 494.8,650.9 498.8,648.7 503.8,646.7 507.8,645.0 511.8,642.9 515.8,640.8 519.8,638.5 524.8,636.1 528.8,636.6 532.8,639.4 536.8,642.8 540.8,645.2 545.8,647.3 549.8,649.4 553.8,650.4 557.8,651.6 561.8,653.8 565.8,655.3 570.8,656.8 574.8,658.0 578.8,659.3 582.8,660.6 586.8,664.8 591.8,666.6 595.8,668.1 599.8,669.8 603.8,670.1 607.8,670.4 612.8,671.2 616.8,672.6 620.8,673.3 624.8,674.5 628.8,675.6 633.8,677.3 637.8,679.1 641.8,680.9 645.8,680.6 649.8,681.9 653.8,684.6 658.8,687.6 662.8,689.9 666.8,692.9 670.8,695.6 674.8,696.9 679.8,697.7 683.8,697.9 687.8,697.6 691.8,697.6 695.8,698.0 700.8,696.9 704.8,695.6 708.8,694.2 712.8,691.8 716.8,688.4 720.8,687.4 725.8,686.0 729.8,683.1 733.8,679.3 737.8,675.5 741.8,672.1 746.8,669.3 750.8,665.9 754.8,661.1 758.8,657.1 762.8,653.0 767.8,647.8 771.8,642.6 775.8,637.6 779.8,632.1 783.8,627.8 788.8,626.0 792.8,624.9 796.8,623.8 800.8,622.4 804.8,620.7 808.8,620.2 813.8,620.4 817.8,621.4 821.8,624.1 825.8,628.9 829.8,634.5 834.8,639.7 838.8,643.7 842.8,648.2 846.8,650.8 850.8,652.7 855.8,654.4 859.8,655.2 863.8,656.6 867.8,657.2 871.8,656.7 876.8,656.0 880.8,655.3 884.8,653.2 888.8,650.7 892.8,648.7 896.8,649.0 901.8,649.7 905.8,649.8 909.8,651.5 913.8,651.7 917.8,653.0 922.8,654.1 926.8,656.9 930.8,660.0 934.8,663.9 938.8,666.1 943.8,668.4 947.8,670.5 951.8,672.7 955.8,674.2 959.8,674.3 964.8,675.0 968.8,675.8 972.8,678.5 976.8,681.0 980.8,683.4 984.8,684.0 989.8,685.2 993.8,685.8 997.8,685.8 1001.8,683.9 1005.8,682.5 1010.8,681.6 1014.8,680.9 1018.8,680.4 1022.8,679.9 1026.8,678.7 1031.8,678.4 1035.8,677.8 1039.8,677.7 1043.8,679.3 1047.8,681.0 1052.8,683.0 1056.8,687.1 1060.8,691.1 1064.8,694.7 1068.8,697.0 1072.8,698.3 1077.8,699.9 1081.8,700.6 1085.8,700.6 1089.8,699.7 1093.8,698.9 1098.8,697.9 1102.8,694.2 1106.8,692.0 1110.8,689.4 1114.8,686.3 1119.8,686.8 1123.8,687.5 1127.8,687.1 1131.8,686.7 1135.8,686.5 1139.8,688.2 1144.8,690.8 1148.8,693.6 1152.8,696.1 1156.8,698.1 1160.8,701.1 1165.8,702.9 1169.8,705.4 1173.8,706.6 1177.8,705.1 1181.8,703.2 1186.8,702.2 1190.8,701.8 1194.8,701.7 1198.8,701.4 1202.8,701.3 1207.8,700.7 1211.8,700.3 1215.8,700.1 1219.8,701.4 1223.8,703.4 1227.8,704.2 1232.8,705.6 1236.8,706.7 1240.8,708.1 1244.8,709.6 1248.8,710.9 1253.8,712.0 1257.8,712.8 1261.8,713.9 1265.8,715.7 1269.8,717.2 1274.8,719.2 1278.8,720.0 1282.8,718.9 1286.8,718.8"/>
<polyline fill="none" stroke="#7e57c2" stroke-width="1.3" stroke-linejoin="round" points="12.8,702.0 17.8,696.4 21.8,693.0 25.8,699.2 29.8,691.1 33.8,693.6 38.8,692.6 42.8,699.8 46.8,704.8 50.8,712.3 54.8,708.0 58.8,693.6 63.8,688.9 67.8,705.8 71.8,720.4 75.8,719.3 79.8,727.9 84.8,721.7 88.8,726.4 92.8,730.2 96.8,729.2 100.8,729.2 105.8,724.9 109.8,728.7 113.8,711.4 117.8,716.1 121.8,709.9 126.8,712.9 130.8,715.2 134.8,704.3 138.8,711.0 142.8,705.4 146.8,702.4 151.8,709.5 155.8,696.4 159.8,689.8 163.8,716.7 167.8,718.5 172.8,728.3 176.8,730.5 180.8,734.9 184.8,735.4 188.8,700.1 193.8,722.7 197.8,720.3 201.8,713.6 205.8,716.1 209.8,719.9 214.8,712.8 218.8,723.6 222.8,731.8 226.8,725.3 230.8,725.9 234.8,728.7 239.8,722.4 243.8,718.5 247.8,723.0 251.8,716.9 255.8,716.3 260.8,701.5 264.8,709.1 268.8,710.0 272.8,706.8 276.8,703.5 281.8,693.1 285.8,696.8 289.8,703.2 293.8,702.2 297.8,714.4 301.8,721.4 306.8,722.9 310.8,718.1 314.8,705.4 318.8,717.2 322.8,712.6 327.8,713.6 331.8,714.3 335.8,735.1 339.8,737.0 343.8,743.0 348.8,711.0 352.8,722.5 356.8,716.7 360.8,705.8 364.8,710.8 369.8,707.7 373.8,710.7 377.8,712.3 381.8,710.0 385.8,709.0 389.8,705.2 394.8,710.0 398.8,710.0 402.8,681.9 406.8,675.8 410.8,681.5 415.8,679.3 419.8,674.3 423.8,679.9 427.8,677.5 431.8,679.2 436.8,680.5 440.8,672.3 444.8,670.5 448.8,676.8 452.8,680.4 457.8,677.2 461.8,681.2 465.8,679.8 469.8,631.2 473.8,623.0 477.8,612.8 482.8,626.3 486.8,628.5 490.8,619.8 494.8,632.7 498.8,641.3 503.8,642.5 507.8,652.9 511.8,651.1 515.8,647.9 519.8,648.7 524.8,646.9 528.8,637.9 532.8,662.4 536.8,660.9 540.8,659.4 545.8,658.3 549.8,648.8 553.8,647.1 557.8,656.8 561.8,674.4 565.8,673.8 570.8,672.1 574.8,664.2 578.8,667.2 582.8,665.1 586.8,697.0 591.8,687.5 595.8,681.2 599.8,683.6 603.8,663.1 607.8,651.8 612.8,658.8 616.8,676.8 620.8,684.7 624.8,690.4 628.8,687.3 633.8,687.9 637.8,692.8 641.8,690.5 645.8,692.1 649.8,706.5 653.8,718.7 658.8,724.8 662.8,696.3 666.8,692.9 670.8,696.7 674.8,696.0 679.8,695.0 683.8,693.5 687.8,683.3 691.8,687.1 695.8,698.4 700.8,675.5 704.8,673.3 708.8,686.8 712.8,685.1 716.8,677.1 720.8,683.6 725.8,672.3 729.8,656.8 733.8,642.4 737.8,642.4 741.8,645.6 746.8,643.1 750.8,640.3 754.8,631.2 758.8,619.9 762.8,615.8 767.8,613.8 771.8,612.1 775.8,607.0 779.8,606.6 783.8,611.7 788.8,631.6 792.8,627.6 796.8,626.4 800.8,625.9 804.8,619.4 808.8,633.7 813.8,634.4 817.8,633.2 821.8,654.0 825.8,681.1 829.8,690.5 834.8,679.6 838.8,662.1 842.8,675.0 846.8,668.6 850.8,654.3 855.8,649.4 859.8,637.8 863.8,639.3 867.8,641.7 871.8,627.6 876.8,622.8 880.8,644.0 884.8,652.9 888.8,654.7 892.8,651.6 896.8,666.4 901.8,684.9 905.8,669.9 909.8,677.9 913.8,651.9 917.8,655.8 922.8,655.6 926.8,680.8 930.8,671.1 934.8,676.5 938.8,675.7 943.8,684.5 947.8,683.9 951.8,682.7 955.8,687.6 959.8,686.6 964.8,679.2 968.8,689.7 972.8,688.7 976.8,691.9 980.8,688.9 984.8,688.5 989.8,688.2 993.8,685.4 997.8,675.6 1001.8,658.2 1005.8,663.8 1010.8,670.0 1014.8,677.6 1018.8,679.6 1022.8,672.3 1026.8,673.2 1031.8,684.3 1035.8,683.8 1039.8,687.5 1043.8,710.4 1047.8,712.7 1052.8,713.4 1056.8,732.3 1060.8,713.9 1064.8,715.3 1068.8,702.4 1072.8,695.5 1077.8,701.2 1081.8,683.1 1085.8,672.7 1089.8,671.5 1093.8,673.2 1098.8,672.4 1102.8,658.8 1106.8,682.5 1110.8,676.2 1114.8,689.9 1119.8,720.9 1123.8,724.6 1127.8,696.2 1131.8,691.3 1135.8,697.3 1139.8,706.8 1144.8,708.9 1148.8,712.0 1152.8,707.6 1156.8,700.7 1160.8,701.2 1165.8,707.4 1169.8,710.9 1173.8,706.4 1177.8,700.4 1181.8,698.2 1186.8,681.7 1190.8,685.7 1194.8,696.5 1198.8,701.8 1202.8,707.9 1207.8,704.0 1211.8,701.3 1215.8,698.2 1219.8,719.6 1223.8,735.0 1227.8,721.6 1232.8,726.9 1236.8,715.8 1240.8,717.6 1244.8,702.3 1248.8,704.0 1253.8,712.7 1257.8,712.9 1261.8,723.1 1265.8,728.6 1269.8,722.7 1274.8,726.8 1278.8,730.0 1282.8,720.0 1286.8,720.4"/>
<circle cx="126.5" cy="202" r="0.9" fill="#4caf50" fill-opacity="0.8"/>
<circle cx="235.5" cy="202" r="0.9" fill="#4caf50" fill-opacity="0.8"/>
<circle cx="407.5" cy="170" r="0.9" fill="#4caf50" fill-opacity="0.8"/>
<circle cx="395" cy="255.5" r="0.9" fill="#4caf50" fill-opacity="0.8"/>
<circle cx="248.5" cy="270" r="0.9" fill="#4caf50" fill-opacity="0.8"/>
<circle cx="416" cy="348" r="0.9" fill="#4caf50" fill-opacity="0.8"/>
<circle cx="620.5" cy="403" r="0.9" fill="#4caf50" fill-opacity="0.8"/>
<circle cx="403" cy="487" r="0.9" fill="#4caf50" fill-opacity="0.8"/>
<circle cx="215" cy="340" r="0.9" fill="#f23645" fill-opacity="0.8"/>
<circle cx="461" cy="354" r="0.9" fill="#f23645" fill-opacity="0.8"/>
<circle cx="503.5" cy="382" r="0.9" fill="#f23645" fill-opacity="0.8"/>
<circle cx="784" cy="340" r="0.9" fill="#f23645" fill-opacity="0.8"/>
<circle cx="754.5" cy="382" r="0.9" fill="#f23645" fill-opacity="0.8"/>
<circle cx="172.5" cy="371" r="0.9" fill="#f23645" fill-opacity="0.8"/>
<circle cx="42.5" cy="493" r="0.9" fill="#f23645" fill-opacity="0.8"/>
<circle cx="499" cy="548" r="0.9" fill="#f23645" fill-opacity="0.8"/>
<rect x="767" y="235" width="2" height="4" fill="#000" shape-rendering="crispEdges"/>
<g shape-rendering="crispEdges">
<rect x="12" y="33" width="1789" height="2" fill="#e9e9ec" fill-opacity="0.6"/>
<rect x="12" y="33" width="2" height="760" fill="#e9e9ec" fill-opacity="0.6"/>
<rect x="1799" y="33" width="2" height="760" fill="#e9e9ec" fill-opacity="0.6"/>
<rect x="12" y="792" width="1789" height="2" fill="#e9e9ec" fill-opacity="0.6"/>
<rect x="14" y="510" width="1786" height="1" fill="#e0e3eb"/>
<rect x="14" y="591" width="1786" height="1" fill="#e0e3eb"/>
<rect x="1715" y="35" width="1" height="723" fill="#ebecef"/>
</g>
<text x="1730" y="488.3" font-family="Liberation Sans, Arial, sans-serif" font-size="14.4" fill="#131722" font-weight="normal" text-anchor="start" textLength="58.8" lengthAdjust="spacingAndGlyphs">1,200.00</text>
<text x="1730" y="445.3" font-family="Liberation Sans, Arial, sans-serif" font-size="14.4" fill="#131722" font-weight="normal" text-anchor="start" textLength="58.8" lengthAdjust="spacingAndGlyphs">1,600.00</text>
<text x="1730" y="403.3" font-family="Liberation Sans, Arial, sans-serif" font-size="14.4" fill="#131722" font-weight="normal" text-anchor="start" textLength="58.8" lengthAdjust="spacingAndGlyphs">2,000.00</text>
<text x="1730" y="360.3" font-family="Liberation Sans, Arial, sans-serif" font-size="14.4" fill="#131722" font-weight="normal" text-anchor="start" textLength="58.8" lengthAdjust="spacingAndGlyphs">2,400.00</text>
<text x="1730" y="317.3" font-family="Liberation Sans, Arial, sans-serif" font-size="14.4" fill="#131722" font-weight="normal" text-anchor="start" textLength="58.8" lengthAdjust="spacingAndGlyphs">2,800.00</text>
<text x="1730" y="275.3" font-family="Liberation Sans, Arial, sans-serif" font-size="14.4" fill="#131722" font-weight="normal" text-anchor="start" textLength="58.8" lengthAdjust="spacingAndGlyphs">3,200.00</text>
<text x="1730" y="232.3" font-family="Liberation Sans, Arial, sans-serif" font-size="14.4" fill="#131722" font-weight="normal" text-anchor="start" textLength="58.8" lengthAdjust="spacingAndGlyphs">3,600.00</text>
<text x="1730" y="190.3" font-family="Liberation Sans, Arial, sans-serif" font-size="14.4" fill="#131722" font-weight="normal" text-anchor="start" textLength="58.8" lengthAdjust="spacingAndGlyphs">4,000.00</text>
<text x="1730" y="147.3" font-family="Liberation Sans, Arial, sans-serif" font-size="14.4" fill="#131722" font-weight="normal" text-anchor="start" textLength="58.8" lengthAdjust="spacingAndGlyphs">4,400.00</text>
<text x="1730" y="105.3" font-family="Liberation Sans, Arial, sans-serif" font-size="14.4" fill="#131722" font-weight="normal" text-anchor="start" textLength="58.8" lengthAdjust="spacingAndGlyphs">4,800.00</text>
<text x="1730" y="544.7" font-family="Liberation Sans, Arial, sans-serif" font-size="14.4" fill="#131722" font-weight="normal" text-anchor="start" textLength="21.2" lengthAdjust="spacingAndGlyphs">2 M</text>
<clipPath id="rclip"><rect x="1716" y="592" width="84" height="165.8"/></clipPath><g clip-path="url(#rclip)">
<text x="1730" y="629.4" font-family="Liberation Sans, Arial, sans-serif" font-size="14.4" fill="#131722" font-weight="normal" text-anchor="start" textLength="38" lengthAdjust="spacingAndGlyphs">80.00</text>
<text x="1730" y="672.7" font-family="Liberation Sans, Arial, sans-serif" font-size="14.4" fill="#131722" font-weight="normal" text-anchor="start" textLength="38" lengthAdjust="spacingAndGlyphs">60.00</text>
<text x="1730" y="758.6" font-family="Liberation Sans, Arial, sans-serif" font-size="14.4" fill="#131722" font-weight="normal" text-anchor="start" textLength="38" lengthAdjust="spacingAndGlyphs">20.00</text>
</g>
<path d="M1720 76.2H1795.3V92.6Q1795.3 94.6 1793.3 94.6H1722Q1720 94.6 1720 92.6Z" fill="#4caf50"/>
<text x="1730.6" y="89.2" font-family="Liberation Sans, Arial, sans-serif" font-size="14.4" fill="#fff" font-weight="normal" text-anchor="start" textLength="58.8" lengthAdjust="spacingAndGlyphs" stroke="#fff" stroke-width="0.25">4,956.78</text>
<rect x="1720" y="124.1" width="75.29999999999995" height="20.30000000000001" rx="2" fill="#f23645"/>
<text x="1730.6" y="139.3" font-family="Liberation Sans, Arial, sans-serif" font-size="14.4" fill="#fff" font-weight="normal" text-anchor="start" textLength="58.8" lengthAdjust="spacingAndGlyphs" stroke="#fff" stroke-width="0.25">4,488.00</text>
<rect x="1720" y="151" width="75.29999999999995" height="20.30000000000001" rx="2" fill="#2962ff"/>
<text x="1730.6" y="166.2" font-family="Liberation Sans, Arial, sans-serif" font-size="14.4" fill="#fff" font-weight="normal" text-anchor="start" textLength="58.8" lengthAdjust="spacingAndGlyphs" stroke="#fff" stroke-width="0.25">4,232.11</text>
<rect x="1720" y="209" width="75.29999999999995" height="20.30000000000001" rx="2" fill="#ff0000"/>
<text x="1730.6" y="224.2" font-family="Liberation Sans, Arial, sans-serif" font-size="14.4" fill="#fff" font-weight="normal" text-anchor="start" textLength="58.8" lengthAdjust="spacingAndGlyphs" stroke="#fff" stroke-width="0.25">3,685.82</text>
<rect x="1720" y="270" width="75.3" height="38" rx="2" fill="#f23645"/>
<text x="1730.6" y="284.3" font-family="Liberation Sans, Arial, sans-serif" font-size="14.4" fill="#fff" font-weight="normal" text-anchor="start" textLength="58.8" lengthAdjust="spacingAndGlyphs" stroke="#fff" stroke-width="0.25">3,118.23</text>
<text x="1730.6" y="302.6" font-family="Liberation Sans, Arial, sans-serif" font-size="14.4" fill="#ffffffcc" font-weight="normal" text-anchor="start" textLength="58.8" lengthAdjust="spacingAndGlyphs">21:27:01</text>
<rect x="1720" y="307.8" width="75.29999999999995" height="21.0" rx="2" fill="#2962ff"/>
<text x="1730.6" y="323.4" font-family="Liberation Sans, Arial, sans-serif" font-size="14.4" fill="#fff" font-weight="normal" text-anchor="start" textLength="58.8" lengthAdjust="spacingAndGlyphs" stroke="#fff" stroke-width="0.25">3,017.95</text>
<rect x="1720" y="447.5" width="75.29999999999995" height="20.399999999999977" rx="2" fill="#000"/>
<text x="1730.6" y="462.8" font-family="Liberation Sans, Arial, sans-serif" font-size="14.4" fill="#fff" font-weight="normal" text-anchor="start" textLength="58.8" lengthAdjust="spacingAndGlyphs" stroke="#fff" stroke-width="0.25">1,449.12</text>
<rect x="1720" y="570" width="64.70000000000005" height="21" rx="2" fill="#ef5350"/>
<text x="1730.6" y="585.6" font-family="Liberation Sans, Arial, sans-serif" font-size="14.4" fill="#fff" font-weight="normal" text-anchor="start" textLength="48.8" lengthAdjust="spacingAndGlyphs" stroke="#fff" stroke-width="0.25">40.82 K</text>
<rect x="1720" y="689.5" width="54" height="20.5" rx="2" fill="#fdd835"/>
<text x="1730.6" y="704.9" font-family="Liberation Sans, Arial, sans-serif" font-size="14.4" fill="#131722" font-weight="normal" text-anchor="start" textLength="38" lengthAdjust="spacingAndGlyphs">36.36</text>
<rect x="1720" y="710" width="54" height="21" rx="2" fill="#7e57c2"/>
<text x="1730.6" y="725.6" font-family="Liberation Sans, Arial, sans-serif" font-size="14.4" fill="#fff" font-weight="normal" text-anchor="start" textLength="38" lengthAdjust="spacingAndGlyphs" stroke="#fff" stroke-width="0.25">35.59</text>
<rect x="1724" y="39.5" width="72.5" height="31" rx="4.5" fill="#fff" stroke="#e6e8ec" stroke-width="1"/>
<text x="1735.6" y="59.8" font-family="Liberation Sans, Arial, sans-serif" font-size="14.4" fill="#131722" font-weight="normal" text-anchor="start" textLength="34.6" lengthAdjust="spacingAndGlyphs">USDT</text>
<clipPath id="tclip"><rect x="14" y="758" width="1705" height="34"/></clipPath><g clip-path="url(#tclip)">
<text x="67.7" y="781" font-family="Liberation Sans, Arial, sans-serif" font-size="14.4" fill="#131722" font-weight="normal" text-anchor="middle">Feb</text>
<text x="184.7" y="781" font-family="Liberation Sans, Arial, sans-serif" font-size="14.4" fill="#131722" font-weight="normal" text-anchor="middle">Mar</text>
<text x="314.7" y="781" font-family="Liberation Sans, Arial, sans-serif" font-size="14.4" fill="#131722" font-weight="normal" text-anchor="middle">Apr</text>
<text x="440.7" y="781" font-family="Liberation Sans, Arial, sans-serif" font-size="14.4" fill="#131722" font-weight="normal" text-anchor="middle">May</text>
<text x="570.7" y="781" font-family="Liberation Sans, Arial, sans-serif" font-size="14.4" fill="#131722" font-weight="normal" text-anchor="middle">Jun</text>
<text x="695.7" y="781" font-family="Liberation Sans, Arial, sans-serif" font-size="14.4" fill="#131722" font-weight="normal" text-anchor="middle">Jul</text>
<text x="825.7" y="781" font-family="Liberation Sans, Arial, sans-serif" font-size="14.4" fill="#131722" font-weight="normal" text-anchor="middle">Aug</text>
<text x="955.7" y="781" font-family="Liberation Sans, Arial, sans-serif" font-size="14.4" fill="#131722" font-weight="normal" text-anchor="middle">Sep</text>
<text x="1081.7" y="781" font-family="Liberation Sans, Arial, sans-serif" font-size="14.4" fill="#131722" font-weight="normal" text-anchor="middle">Oct</text>
<text x="1211.7" y="781" font-family="Liberation Sans, Arial, sans-serif" font-size="14.4" fill="#131722" font-weight="normal" text-anchor="middle">Nov</text>
<text x="1336.7" y="781" font-family="Liberation Sans, Arial, sans-serif" font-size="14.4" fill="#131722" font-weight="normal" text-anchor="middle">Dec</text>
<text x="1466.7" y="781" font-family="Liberation Sans, Arial, sans-serif" font-size="14.4" fill="#131722" font-weight="bold" text-anchor="middle" textLength="34" lengthAdjust="spacingAndGlyphs">2026</text>
<text x="1596.7" y="781" font-family="Liberation Sans, Arial, sans-serif" font-size="14.4" fill="#131722" font-weight="normal" text-anchor="middle">Feb</text>
<text x="1702.2" y="780.8" font-family="Liberation Sans, Arial, sans-serif" font-size="14.4" fill="#131722" font-weight="normal" text-anchor="start" textLength="26" lengthAdjust="spacingAndGlyphs">Mar</text>
</g>
<text x="12.2" y="24.5" font-family="Liberation Sans, Arial, sans-serif" font-size="14.4" fill="#131722" font-weight="normal" text-anchor="start" textLength="73.5" lengthAdjust="spacingAndGlyphs">M_MTrades</text>
<text x="89.6" y="24.5" font-family="Liberation Sans, Arial, sans-serif" font-size="14.4" fill="#131722" font-weight="normal" text-anchor="start" textLength="51.5" lengthAdjust="spacingAndGlyphs">created</text>
<text x="146.2" y="24.5" font-family="Liberation Sans, Arial, sans-serif" font-size="14.4" fill="#131722" font-weight="normal" text-anchor="start" textLength="29.3" lengthAdjust="spacingAndGlyphs">with</text>
<text x="180.3" y="24.5" font-family="Liberation Sans, Arial, sans-serif" font-size="14.4" fill="#131722" font-weight="normal" text-anchor="start" textLength="118.1" lengthAdjust="spacingAndGlyphs">TradingView.com,</text>
<text x="303.7" y="24.5" font-family="Liberation Sans, Arial, sans-serif" font-size="14.4" fill="#131722" font-weight="normal" text-anchor="start" textLength="24.4" lengthAdjust="spacingAndGlyphs">Nov</text>
<text x="333.6" y="24.5" font-family="Liberation Sans, Arial, sans-serif" font-size="14.4" fill="#131722" font-weight="normal" text-anchor="start" textLength="20.7" lengthAdjust="spacingAndGlyphs">19,</text>
<text x="358.6" y="24.5" font-family="Liberation Sans, Arial, sans-serif" font-size="14.4" fill="#131722" font-weight="normal" text-anchor="start" textLength="31.8" lengthAdjust="spacingAndGlyphs">2025</text>
<text x="394.5" y="24.5" font-family="Liberation Sans, Arial, sans-serif" font-size="14.4" fill="#131722" font-weight="normal" text-anchor="start" textLength="36.8" lengthAdjust="spacingAndGlyphs">08:02</text>
<text x="436.3" y="24.5" font-family="Liberation Sans, Arial, sans-serif" font-size="14.4" fill="#131722" font-weight="normal" text-anchor="start" textLength="64.8" lengthAdjust="spacingAndGlyphs">UTC+5:30</text>
<text x="22.9" y="58.6" font-family="Liberation Sans, Arial, sans-serif" font-size="14.4" fill="#131722" font-weight="normal" text-anchor="start" textLength="65.6" lengthAdjust="spacingAndGlyphs">Ethereum</text>
<text x="95.8" y="58.6" font-family="Liberation Sans, Arial, sans-serif" font-size="14.4" fill="#131722" font-weight="normal" text-anchor="middle">/</text>
<text x="104.6" y="58.6" font-family="Liberation Sans, Arial, sans-serif" font-size="14.4" fill="#131722" font-weight="normal" text-anchor="start" textLength="60.9" lengthAdjust="spacingAndGlyphs">TetherUS</text>
<text x="172.5" y="58.6" font-family="Liberation Sans, Arial, sans-serif" font-size="14.4" fill="#131722" font-weight="normal" text-anchor="middle">·</text>
<text x="178.8" y="58.6" font-family="Liberation Sans, Arial, sans-serif" font-size="14.4" fill="#131722" font-weight="normal" text-anchor="start" textLength="18.2" lengthAdjust="spacingAndGlyphs">1D</text>
<text x="204.3" y="58.6" font-family="Liberation Sans, Arial, sans-serif" font-size="14.4" fill="#131722" font-weight="normal" text-anchor="middle">·</text>
<text x="211.4" y="58.6" font-family="Liberation Sans, Arial, sans-serif" font-size="14.4" fill="#131722" font-weight="normal" text-anchor="start" textLength="53.0" lengthAdjust="spacingAndGlyphs">Binance</text>
<text x="272.6" y="58.6" font-family="Liberation Sans, Arial, sans-serif" font-size="14.4" fill="#131722" font-weight="normal" text-anchor="start" textLength="11.0" lengthAdjust="spacingAndGlyphs">O</text>
<text x="283.6" y="58.6" font-family="Liberation Sans, Arial, sans-serif" font-size="14.4" fill="#f23645" font-weight="normal" text-anchor="start" textLength="57.8" lengthAdjust="spacingAndGlyphs">3,123.65</text>
<text x="350.3" y="58.6" font-family="Liberation Sans, Arial, sans-serif" font-size="14.4" fill="#131722" font-weight="normal" text-anchor="start" textLength="10.0" lengthAdjust="spacingAndGlyphs">H</text>
<text x="360.6" y="58.6" font-family="Liberation Sans, Arial, sans-serif" font-size="14.4" fill="#f23645" font-weight="normal" text-anchor="start" textLength="58.2" lengthAdjust="spacingAndGlyphs">3,125.54</text>
<text x="427.4" y="58.6" font-family="Liberation Sans, Arial, sans-serif" font-size="14.4" fill="#131722" font-weight="normal" text-anchor="start" textLength="8.1" lengthAdjust="spacingAndGlyphs">L</text>
<text x="435.6" y="58.6" font-family="Liberation Sans, Arial, sans-serif" font-size="14.4" fill="#f23645" font-weight="normal" text-anchor="start" textLength="57.7" lengthAdjust="spacingAndGlyphs">3,077.88</text>
<text x="501.8" y="58.6" font-family="Liberation Sans, Arial, sans-serif" font-size="14.4" fill="#131722" font-weight="normal" text-anchor="start" textLength="9.7" lengthAdjust="spacingAndGlyphs">C</text>
<text x="511.2" y="58.6" font-family="Liberation Sans, Arial, sans-serif" font-size="14.4" fill="#f23645" font-weight="normal" text-anchor="start" textLength="57.9" lengthAdjust="spacingAndGlyphs">3,118.23</text>
<text x="578.6" y="58.6" font-family="Liberation Sans, Arial, sans-serif" font-size="14.4" fill="#f23645" font-weight="normal" text-anchor="start" textLength="36.1" lengthAdjust="spacingAndGlyphs">−5.43</text>
<text x="620.1" y="58.6" font-family="Liberation Sans, Arial, sans-serif" font-size="14.4" fill="#f23645" font-weight="normal" text-anchor="start" textLength="56.9" lengthAdjust="spacingAndGlyphs">(−0.17%)</text>
<text x="1318.3" y="87.8" font-family="Liberation Sans, Arial, sans-serif" font-size="14.4" fill="#131722" font-weight="normal" text-anchor="start" textLength="111" lengthAdjust="spacingAndGlyphs">0.00% (4,956.78)</text>
<text x="1318.4" y="233.8" font-family="Liberation Sans, Arial, sans-serif" font-size="14.4" fill="#131722" font-weight="normal" text-anchor="start" textLength="118.7" lengthAdjust="spacingAndGlyphs">38.20% (3,592.38)</text>
<text x="1318.4" y="322.8" font-family="Liberation Sans, Arial, sans-serif" font-size="14.4" fill="#131722" font-weight="normal" text-anchor="start" textLength="118.7" lengthAdjust="spacingAndGlyphs">61.80% (2,749.45)</text>
<text x="1318.7" y="468.7" font-family="Liberation Sans, Arial, sans-serif" font-size="14.4" fill="#131722" font-weight="normal" text-anchor="start" textLength="126.1" lengthAdjust="spacingAndGlyphs">100.00% (1,385.05)</text>
<text x="1709.8" y="76.1" font-family="Liberation Sans, Arial, sans-serif" font-size="14.4" fill="#4caf50" font-weight="bold" text-anchor="end" textLength="62" lengthAdjust="spacingAndGlyphs">New ATH</text>
<text x="1709.8" y="125.8" font-family="Liberation Sans, Arial, sans-serif" font-size="14.4" fill="#f23645" font-weight="bold" text-anchor="end" textLength="61" lengthAdjust="spacingAndGlyphs">Daily S/R</text>
<text x="1709.6" y="449.2" font-family="Liberation Sans, Arial, sans-serif" font-size="14.4" fill="#000" font-weight="bold" text-anchor="end" textLength="60.5" lengthAdjust="spacingAndGlyphs">Daily S/R</text>
<g fill="#161616"><path d="M15.3 820.4H30.8V839H22.9V828H15.3Z"/><circle cx="36.3" cy="824.2" r="3.9"/><path d="M41.6 820.4H53L47.7 839H36.8Z"/></g>
<text x="61.5" y="839" font-family="Liberation Sans, Arial, sans-serif" font-size="26" fill="#161616" font-weight="bold" text-anchor="start" textLength="151.6" lengthAdjust="spacingAndGlyphs">TradingView</text></svg>
</body></html>
